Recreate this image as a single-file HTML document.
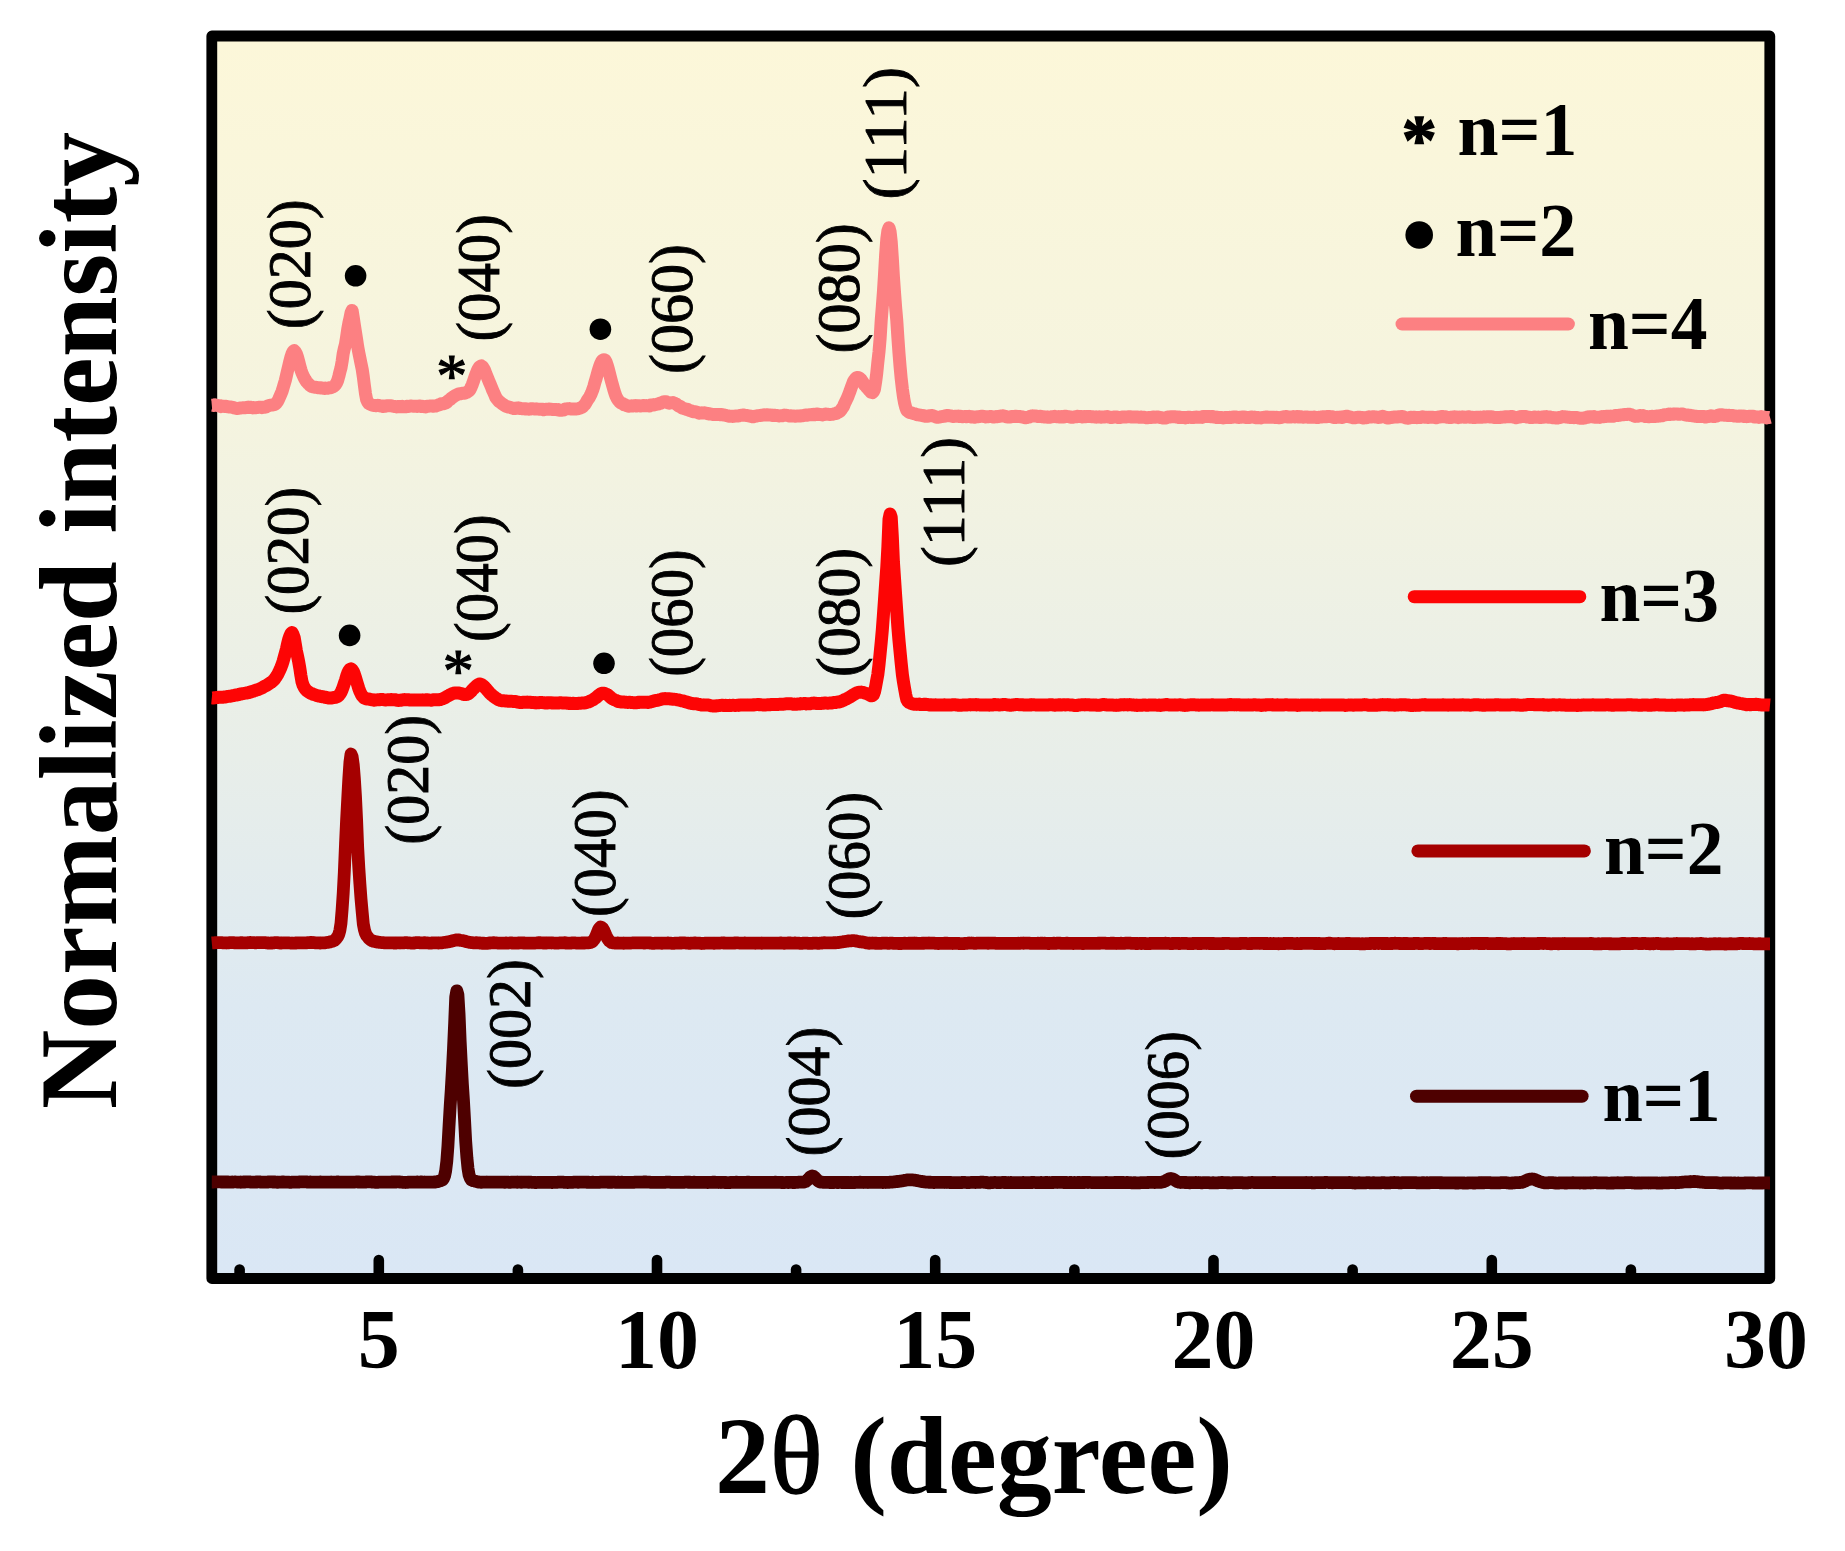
<!DOCTYPE html>
<html><head><meta charset="utf-8"><title>XRD</title>
<style>
html,body{margin:0;padding:0;background:#fff;}
svg{display:block;filter:blur(0.6px);}
text{font-family:"Liberation Serif","Times New Roman",serif;fill:#000;}
.b{font-weight:bold;}
.pl{font-size:62px;stroke:#000;stroke-width:0.9px;}
.tk{font-size:84px;font-weight:bold;text-anchor:middle;}
.lg{font-size:76px;font-weight:bold;}
.ax{font-size:110px;font-weight:bold;}
</style></head><body>
<svg width="1845" height="1551" viewBox="0 0 1845 1551">
<defs><linearGradient id="bg" x1="0" y1="0" x2="0" y2="1">
<stop offset="0" stop-color="#FCF7D9"/><stop offset="0.3" stop-color="#F5F4DF"/><stop offset="0.58" stop-color="#E8EEE9"/><stop offset="0.78" stop-color="#DDE9F2"/><stop offset="1" stop-color="#DAE7F5"/></linearGradient></defs>
<rect x="0" y="0" width="1845" height="1551" fill="#fff"/>
<rect x="211.8" y="36" width="1558" height="1242.5" fill="url(#bg)"/>

<g stroke="#000" stroke-width="10.6" stroke-linecap="round">
<line x1="239.6" y1="1278" x2="239.6" y2="1269.5"/>
<line x1="378.8" y1="1278" x2="378.8" y2="1260"/>
<line x1="517.9" y1="1278" x2="517.9" y2="1269.5"/>
<line x1="657.0" y1="1278" x2="657.0" y2="1260"/>
<line x1="796.1" y1="1278" x2="796.1" y2="1269.5"/>
<line x1="935.2" y1="1278" x2="935.2" y2="1260"/>
<line x1="1074.4" y1="1278" x2="1074.4" y2="1269.5"/>
<line x1="1213.5" y1="1278" x2="1213.5" y2="1260"/>
<line x1="1352.6" y1="1278" x2="1352.6" y2="1269.5"/>
<line x1="1491.8" y1="1278" x2="1491.8" y2="1260"/>
<line x1="1630.9" y1="1278" x2="1630.9" y2="1269.5"/>
</g>
<rect x="211.8" y="36" width="1558" height="1242.5" fill="none" stroke="#000" stroke-width="10.8" stroke-linejoin="round"/>
<g fill="none" stroke-linejoin="round" stroke-linecap="butt">
<path d="M211.8,405.3 L212.9,405.2 L214.0,405.5 L215.1,404.9 L216.3,405.4 L217.4,405.5 L218.5,405.9 L219.6,405.8 L220.7,406.6 L221.8,406.0 L222.9,406.3 L224.1,406.2 L225.2,406.6 L226.3,406.3 L227.4,406.7 L228.5,406.8 L229.6,407.0 L230.7,407.0 L231.8,407.1 L233.0,407.5 L234.1,407.9 L235.2,408.1 L236.3,408.3 L237.4,408.5 L238.5,408.4 L239.6,408.2 L240.8,408.0 L241.9,407.9 L243.0,407.8 L244.1,407.7 L245.2,407.7 L246.3,407.6 L247.4,407.3 L248.6,407.4 L249.7,407.2 L250.8,407.3 L251.9,407.7 L253.0,407.9 L254.1,407.8 L255.2,407.8 L256.4,407.6 L257.5,407.5 L258.6,407.4 L259.7,407.2 L260.8,407.3 L261.9,407.7 L263.0,407.3 L264.1,407.2 L265.3,407.2 L266.4,406.8 L267.5,406.0 L268.6,405.7 L269.7,405.3 L270.8,405.1 L271.9,405.0 L273.1,405.0 L274.2,404.6 L275.3,404.2 L276.4,403.0 L277.5,401.6 L278.6,399.4 L279.7,396.9 L280.9,394.1 L282.0,391.5 L283.1,387.9 L284.2,384.2 L285.3,380.5 L286.4,375.7 L287.5,370.9 L288.7,366.0 L289.8,361.3 L290.9,357.1 L292.0,353.9 L293.1,351.6 L294.2,350.6 L295.3,351.8 L296.4,353.8 L297.6,357.4 L298.7,361.5 L299.8,365.8 L300.9,369.8 L302.0,373.0 L303.1,375.5 L304.2,377.9 L305.4,379.9 L306.5,381.6 L307.6,382.8 L308.7,384.0 L309.8,385.1 L310.9,386.0 L312.0,386.5 L313.2,386.9 L314.3,387.1 L315.4,387.3 L316.5,387.4 L317.6,387.6 L318.7,387.8 L319.8,387.9 L321.0,387.8 L322.1,388.1 L323.2,388.2 L324.3,388.4 L325.4,388.1 L326.5,388.3 L327.6,388.2 L328.7,387.9 L329.9,387.7 L331.0,387.7 L332.1,387.2 L333.2,386.6 L334.3,386.1 L335.4,384.7 L336.5,383.1 L337.7,380.4 L338.8,376.4 L339.9,371.9 L341.0,367.8 L342.1,361.5 L343.2,353.7 L344.3,348.7 L345.5,344.0 L346.6,336.9 L347.7,329.4 L348.8,323.3 L349.9,318.6 L351.0,312.9 L352.1,310.4 L353.3,317.7 L354.4,325.1 L355.5,332.2 L356.6,339.3 L357.7,346.6 L358.8,352.6 L359.9,358.0 L361.0,363.5 L362.2,369.3 L363.3,376.7 L364.4,385.5 L365.5,393.7 L366.6,399.4 L367.7,402.0 L368.8,403.4 L370.0,404.1 L371.1,404.6 L372.2,405.1 L373.3,405.3 L374.4,405.5 L375.5,405.7 L376.6,405.7 L377.8,405.3 L378.9,405.5 L380.0,405.9 L381.1,405.9 L382.2,406.0 L383.3,406.5 L384.4,406.4 L385.6,406.1 L386.7,405.8 L387.8,405.8 L388.9,405.7 L390.0,405.8 L391.1,405.8 L392.2,406.1 L393.3,406.2 L394.5,406.5 L395.6,406.5 L396.7,406.9 L397.8,406.5 L398.9,406.4 L400.0,406.4 L401.1,406.8 L402.3,406.3 L403.4,406.7 L404.5,406.7 L405.6,406.8 L406.7,406.3 L407.8,406.4 L408.9,406.4 L410.1,406.2 L411.2,406.0 L412.3,406.1 L413.4,406.2 L414.5,406.2 L415.6,406.3 L416.7,406.4 L417.9,406.3 L419.0,406.1 L420.1,406.1 L421.2,406.4 L422.3,406.3 L423.4,406.6 L424.5,406.7 L425.6,406.9 L426.8,406.3 L427.9,406.3 L429.0,406.1 L430.1,406.0 L431.2,406.0 L432.3,406.2 L433.4,406.2 L434.6,405.9 L435.7,406.1 L436.8,405.6 L437.9,405.3 L439.0,404.7 L440.1,404.5 L441.2,403.7 L442.4,403.9 L443.5,403.8 L444.6,403.3 L445.7,403.0 L446.8,402.4 L447.9,400.9 L449.0,400.2 L450.2,399.5 L451.3,398.2 L452.4,397.5 L453.5,396.8 L454.6,396.0 L455.7,395.2 L456.8,394.9 L457.9,394.3 L459.1,393.8 L460.2,393.8 L461.3,393.6 L462.4,393.3 L463.5,393.2 L464.6,393.3 L465.7,392.7 L466.9,392.3 L468.0,391.6 L469.1,390.8 L470.2,389.2 L471.3,386.9 L472.4,384.2 L473.5,381.1 L474.7,377.5 L475.8,374.6 L476.9,371.7 L478.0,369.3 L479.1,367.4 L480.2,366.3 L481.3,365.9 L482.5,366.8 L483.6,368.4 L484.7,370.4 L485.8,373.4 L486.9,376.1 L488.0,378.9 L489.1,381.7 L490.2,384.2 L491.4,387.0 L492.5,389.9 L493.6,392.2 L494.7,394.8 L495.8,397.4 L496.9,398.9 L498.0,400.2 L499.2,401.7 L500.3,402.2 L501.4,403.2 L502.5,403.9 L503.6,404.7 L504.7,405.4 L505.8,406.3 L507.0,406.6 L508.1,407.0 L509.2,407.2 L510.3,407.4 L511.4,407.9 L512.5,408.1 L513.6,408.4 L514.8,408.5 L515.9,408.3 L517.0,407.9 L518.1,408.1 L519.2,408.0 L520.3,408.5 L521.4,408.5 L522.5,408.8 L523.7,408.7 L524.8,408.9 L525.9,408.7 L527.0,409.0 L528.1,409.1 L529.2,409.2 L530.3,408.8 L531.5,408.9 L532.6,408.8 L533.7,408.9 L534.8,408.9 L535.9,409.1 L537.0,409.0 L538.1,409.1 L539.3,409.2 L540.4,409.2 L541.5,409.2 L542.6,409.3 L543.7,409.8 L544.8,409.5 L545.9,409.2 L547.1,409.2 L548.2,409.1 L549.3,409.0 L550.4,409.3 L551.5,409.3 L552.6,409.6 L553.7,409.5 L554.8,409.4 L556.0,409.5 L557.1,409.8 L558.2,409.6 L559.3,410.2 L560.4,410.2 L561.5,410.2 L562.6,409.9 L563.8,409.9 L564.9,409.2 L566.0,409.0 L567.1,408.7 L568.2,408.7 L569.3,408.6 L570.4,408.8 L571.6,409.0 L572.7,408.9 L573.8,409.0 L574.9,409.0 L576.0,409.0 L577.1,408.7 L578.2,408.8 L579.4,408.2 L580.5,407.9 L581.6,407.5 L582.7,406.8 L583.8,405.5 L584.9,404.5 L586.0,402.8 L587.1,400.7 L588.3,398.9 L589.4,397.4 L590.5,395.2 L591.6,392.8 L592.7,389.9 L593.8,386.5 L594.9,382.4 L596.1,378.5 L597.2,374.5 L598.3,370.4 L599.4,367.0 L600.5,364.0 L601.6,361.6 L602.7,360.1 L603.9,359.7 L605.0,360.1 L606.1,362.0 L607.2,365.1 L608.3,368.8 L609.4,373.1 L610.5,377.6 L611.7,382.2 L612.8,386.1 L613.9,390.0 L615.0,393.4 L616.1,396.4 L617.2,398.6 L618.3,400.2 L619.4,401.6 L620.6,402.7 L621.7,403.3 L622.8,403.7 L623.9,404.7 L625.0,404.8 L626.1,405.4 L627.2,405.7 L628.4,406.3 L629.5,406.1 L630.6,406.0 L631.7,405.8 L632.8,406.0 L633.9,405.7 L635.0,405.6 L636.2,405.9 L637.3,405.9 L638.4,405.7 L639.5,405.7 L640.6,406.0 L641.7,405.9 L642.8,405.7 L644.0,405.5 L645.1,405.8 L646.2,405.6 L647.3,405.8 L648.4,405.6 L649.5,405.9 L650.6,405.1 L651.7,405.1 L652.9,404.8 L654.0,405.1 L655.1,404.5 L656.2,404.5 L657.3,404.1 L658.4,404.1 L659.5,403.3 L660.7,403.2 L661.8,402.6 L662.9,402.1 L664.0,401.8 L665.1,401.9 L666.2,401.8 L667.3,402.6 L668.5,403.1 L669.6,403.2 L670.7,402.8 L671.8,402.8 L672.9,402.6 L674.0,402.9 L675.1,403.5 L676.3,404.1 L677.4,405.0 L678.5,406.0 L679.6,406.2 L680.7,406.6 L681.8,407.8 L682.9,408.3 L684.0,408.4 L685.2,408.9 L686.3,409.4 L687.4,409.3 L688.5,409.9 L689.6,410.5 L690.7,410.8 L691.8,411.1 L693.0,411.7 L694.1,411.7 L695.2,411.8 L696.3,412.1 L697.4,412.5 L698.5,412.9 L699.6,413.2 L700.8,413.0 L701.9,412.8 L703.0,413.0 L704.1,412.8 L705.2,412.9 L706.3,413.2 L707.4,413.7 L708.6,413.5 L709.7,414.0 L710.8,413.9 L711.9,414.4 L713.0,414.5 L714.1,414.5 L715.2,414.6 L716.3,414.6 L717.5,414.4 L718.6,414.5 L719.7,414.7 L720.8,414.5 L721.9,414.7 L723.0,414.8 L724.1,415.0 L725.3,415.3 L726.4,415.6 L727.5,415.7 L728.6,416.1 L729.7,416.3 L730.8,416.3 L731.9,416.3 L733.1,416.4 L734.2,416.3 L735.3,416.0 L736.4,416.1 L737.5,416.1 L738.6,415.9 L739.7,415.6 L740.9,415.3 L742.0,415.1 L743.1,415.0 L744.2,415.2 L745.3,415.4 L746.4,415.5 L747.5,415.5 L748.6,415.9 L749.8,415.9 L750.9,416.3 L752.0,416.7 L753.1,416.8 L754.2,416.4 L755.3,416.2 L756.4,416.1 L757.6,415.7 L758.7,415.6 L759.8,415.5 L760.9,415.3 L762.0,415.3 L763.1,415.0 L764.2,414.7 L765.4,415.0 L766.5,414.8 L767.6,414.7 L768.7,415.0 L769.8,415.1 L770.9,415.0 L772.0,415.4 L773.2,415.3 L774.3,415.4 L775.4,415.3 L776.5,415.5 L777.6,415.7 L778.7,415.9 L779.8,415.9 L780.9,415.8 L782.1,415.8 L783.2,415.3 L784.3,415.1 L785.4,415.2 L786.5,415.4 L787.6,415.5 L788.7,415.9 L789.9,415.9 L791.0,415.8 L792.1,416.1 L793.2,416.1 L794.3,415.9 L795.4,416.2 L796.5,416.1 L797.7,415.9 L798.8,415.9 L799.9,416.1 L801.0,415.7 L802.1,415.7 L803.2,415.7 L804.3,415.3 L805.5,415.0 L806.6,415.2 L807.7,415.2 L808.8,414.8 L809.9,414.8 L811.0,414.8 L812.1,414.5 L813.2,414.3 L814.4,414.8 L815.5,414.3 L816.6,414.0 L817.7,414.0 L818.8,414.5 L819.9,414.5 L821.0,414.7 L822.2,414.9 L823.3,414.6 L824.4,414.5 L825.5,414.0 L826.6,414.1 L827.7,414.3 L828.8,414.4 L830.0,414.4 L831.1,414.4 L832.2,414.3 L833.3,414.1 L834.4,413.8 L835.5,413.5 L836.6,413.3 L837.8,412.3 L838.9,412.1 L840.0,411.3 L841.1,409.9 L842.2,408.2 L843.3,406.8 L844.4,404.0 L845.5,401.7 L846.7,399.2 L847.8,396.9 L848.9,394.0 L850.0,391.1 L851.1,387.9 L852.2,384.9 L853.3,381.9 L854.5,379.9 L855.6,378.5 L856.7,377.6 L857.8,377.4 L858.9,377.8 L860.0,378.6 L861.1,379.6 L862.3,381.4 L863.4,383.1 L864.5,384.9 L865.6,386.0 L866.7,387.5 L867.8,388.5 L868.9,390.0 L870.1,391.2 L871.2,392.3 L872.3,392.6 L873.4,391.7 L874.5,389.1 L875.6,382.1 L876.7,373.7 L877.8,362.6 L879.0,351.9 L880.1,338.8 L881.2,320.5 L882.3,306.7 L883.4,292.1 L884.5,274.6 L885.6,255.3 L886.8,238.9 L887.9,230.7 L889.0,227.8 L890.1,231.8 L891.2,241.4 L892.3,257.8 L893.4,276.5 L894.6,293.5 L895.7,308.3 L896.8,320.8 L897.9,337.9 L899.0,353.4 L900.1,366.9 L901.2,378.6 L902.4,389.1 L903.5,397.0 L904.6,403.1 L905.7,407.3 L906.8,410.4 L907.9,411.3 L909.0,412.3 L910.1,412.5 L911.3,412.8 L912.4,413.2 L913.5,413.5 L914.6,413.6 L915.7,414.2 L916.8,414.7 L917.9,414.7 L919.1,415.0 L920.2,415.1 L921.3,415.3 L922.4,415.6 L923.5,416.0 L924.6,415.8 L925.7,416.3 L926.9,416.2 L928.0,416.3 L929.1,415.7 L930.2,415.8 L931.3,415.5 L932.4,415.7 L933.5,415.9 L934.7,416.4 L935.8,416.9 L936.9,417.2 L938.0,417.2 L939.1,416.9 L940.2,416.9 L941.3,416.7 L942.4,416.4 L943.6,416.3 L944.7,416.3 L945.8,415.6 L946.9,415.5 L948.0,415.4 L949.1,415.8 L950.2,415.7 L951.4,416.1 L952.5,416.5 L953.6,416.5 L954.7,416.4 L955.8,416.2 L956.9,416.2 L958.0,416.1 L959.2,416.4 L960.3,416.2 L961.4,416.6 L962.5,416.7 L963.6,416.6 L964.7,416.5 L965.8,416.7 L967.0,416.7 L968.1,416.5 L969.2,416.3 L970.3,416.7 L971.4,417.0 L972.5,416.7 L973.6,417.0 L974.7,417.3 L975.9,417.0 L977.0,416.7 L978.1,416.7 L979.2,416.6 L980.3,416.4 L981.4,416.3 L982.5,416.3 L983.7,416.4 L984.8,416.6 L985.9,416.9 L987.0,416.7 L988.1,416.7 L989.2,416.6 L990.3,416.6 L991.5,416.4 L992.6,416.9 L993.7,416.9 L994.8,417.0 L995.9,416.6 L997.0,416.8 L998.1,416.5 L999.3,416.3 L1000.4,416.2 L1001.5,416.0 L1002.6,415.8 L1003.7,415.9 L1004.8,416.2 L1005.9,416.6 L1007.1,416.9 L1008.2,417.1 L1009.3,417.1 L1010.4,417.1 L1011.5,416.4 L1012.6,416.6 L1013.7,416.4 L1014.8,416.4 L1016.0,416.2 L1017.1,416.6 L1018.2,416.5 L1019.3,416.6 L1020.4,416.5 L1021.5,416.9 L1022.6,417.1 L1023.8,417.2 L1024.9,417.8 L1026.0,417.7 L1027.1,417.5 L1028.2,417.1 L1029.3,417.0 L1030.4,416.3 L1031.6,416.0 L1032.7,415.8 L1033.8,416.0 L1034.9,416.1 L1036.0,416.0 L1037.1,416.3 L1038.2,416.5 L1039.4,416.4 L1040.5,416.3 L1041.6,416.6 L1042.7,416.8 L1043.8,416.7 L1044.9,417.1 L1046.0,417.0 L1047.1,417.2 L1048.3,417.1 L1049.4,417.3 L1050.5,416.9 L1051.6,416.8 L1052.7,416.4 L1053.8,416.5 L1054.9,416.3 L1056.1,416.7 L1057.2,416.7 L1058.3,416.6 L1059.4,417.0 L1060.5,417.1 L1061.6,416.5 L1062.7,416.8 L1063.9,417.0 L1065.0,416.3 L1066.1,416.2 L1067.2,416.5 L1068.3,416.6 L1069.4,416.7 L1070.5,417.1 L1071.7,417.3 L1072.8,417.3 L1073.9,417.0 L1075.0,416.7 L1076.1,416.8 L1077.2,416.3 L1078.3,416.4 L1079.4,416.4 L1080.6,416.5 L1081.7,416.5 L1082.8,417.0 L1083.9,416.6 L1085.0,416.6 L1086.1,416.7 L1087.2,416.5 L1088.4,416.4 L1089.5,416.4 L1090.6,416.6 L1091.7,416.7 L1092.8,416.8 L1093.9,416.9 L1095.0,417.0 L1096.2,417.2 L1097.3,417.0 L1098.4,417.1 L1099.5,416.8 L1100.6,417.2 L1101.7,417.2 L1102.8,417.0 L1104.0,416.9 L1105.1,416.9 L1106.2,416.7 L1107.3,416.4 L1108.4,417.0 L1109.5,417.1 L1110.6,417.4 L1111.7,417.4 L1112.9,417.3 L1114.0,417.0 L1115.1,416.9 L1116.2,417.0 L1117.3,417.2 L1118.4,417.6 L1119.5,417.5 L1120.7,417.5 L1121.8,417.1 L1122.9,417.1 L1124.0,417.1 L1125.1,417.1 L1126.2,417.0 L1127.3,416.9 L1128.5,416.8 L1129.6,416.7 L1130.7,416.8 L1131.8,417.0 L1132.9,417.1 L1134.0,417.1 L1135.1,417.1 L1136.3,417.0 L1137.4,417.0 L1138.5,417.1 L1139.6,417.3 L1140.7,417.1 L1141.8,417.1 L1142.9,417.2 L1144.0,417.3 L1145.2,417.4 L1146.3,417.7 L1147.4,417.7 L1148.5,417.4 L1149.6,417.4 L1150.7,417.5 L1151.8,417.3 L1153.0,417.0 L1154.1,417.2 L1155.2,417.3 L1156.3,417.0 L1157.4,417.0 L1158.5,417.2 L1159.6,417.4 L1160.8,417.4 L1161.9,417.7 L1163.0,418.0 L1164.1,418.1 L1165.2,418.0 L1166.3,417.8 L1167.4,417.2 L1168.6,417.0 L1169.7,417.1 L1170.8,416.7 L1171.9,416.7 L1173.0,416.8 L1174.1,416.8 L1175.2,416.7 L1176.3,417.0 L1177.5,417.1 L1178.6,417.4 L1179.7,417.0 L1180.8,417.4 L1181.9,417.6 L1183.0,417.6 L1184.1,417.5 L1185.3,417.9 L1186.4,417.5 L1187.5,417.3 L1188.6,417.4 L1189.7,417.3 L1190.8,417.4 L1191.9,417.6 L1193.1,417.5 L1194.2,417.3 L1195.3,417.2 L1196.4,416.9 L1197.5,417.2 L1198.6,417.2 L1199.7,417.2 L1200.9,417.3 L1202.0,417.4 L1203.1,416.5 L1204.2,416.6 L1205.3,416.5 L1206.4,416.5 L1207.5,416.4 L1208.6,416.6 L1209.8,416.6 L1210.9,416.7 L1212.0,416.5 L1213.1,416.7 L1214.2,417.1 L1215.3,417.1 L1216.4,417.4 L1217.6,417.3 L1218.7,417.6 L1219.8,417.4 L1220.9,417.6 L1222.0,417.5 L1223.1,417.9 L1224.2,417.7 L1225.4,417.6 L1226.5,417.4 L1227.6,417.6 L1228.7,417.5 L1229.8,417.3 L1230.9,417.5 L1232.0,417.4 L1233.2,417.0 L1234.3,417.1 L1235.4,417.0 L1236.5,417.2 L1237.6,417.4 L1238.7,417.5 L1239.8,417.2 L1240.9,417.3 L1242.1,416.9 L1243.2,416.9 L1244.3,416.9 L1245.4,417.3 L1246.5,417.5 L1247.6,417.5 L1248.7,417.4 L1249.9,417.4 L1251.0,416.9 L1252.1,416.9 L1253.2,417.2 L1254.3,417.4 L1255.4,417.3 L1256.5,417.8 L1257.7,417.6 L1258.8,417.6 L1259.9,417.7 L1261.0,417.9 L1262.1,417.4 L1263.2,417.4 L1264.3,417.3 L1265.5,417.2 L1266.6,417.0 L1267.7,417.2 L1268.8,417.3 L1269.9,417.3 L1271.0,417.2 L1272.1,417.3 L1273.2,417.2 L1274.4,417.4 L1275.5,417.4 L1276.6,417.3 L1277.7,417.6 L1278.8,417.7 L1279.9,417.7 L1281.0,417.5 L1282.2,417.2 L1283.3,416.8 L1284.4,416.8 L1285.5,416.6 L1286.6,416.6 L1287.7,416.9 L1288.8,416.9 L1290.0,416.9 L1291.1,417.0 L1292.2,416.9 L1293.3,416.5 L1294.4,416.9 L1295.5,416.9 L1296.6,416.5 L1297.8,416.5 L1298.9,417.0 L1300.0,416.7 L1301.1,416.8 L1302.2,417.1 L1303.3,417.2 L1304.4,417.1 L1305.5,417.1 L1306.7,417.0 L1307.8,417.2 L1308.9,417.3 L1310.0,417.2 L1311.1,417.2 L1312.2,417.2 L1313.3,417.2 L1314.5,417.1 L1315.6,417.3 L1316.7,417.6 L1317.8,417.6 L1318.9,417.2 L1320.0,417.1 L1321.1,417.0 L1322.3,416.8 L1323.4,416.8 L1324.5,416.7 L1325.6,416.8 L1326.7,416.7 L1327.8,416.5 L1328.9,416.4 L1330.1,416.6 L1331.2,416.7 L1332.3,416.8 L1333.4,417.4 L1334.5,417.6 L1335.6,417.5 L1336.7,417.2 L1337.8,417.3 L1339.0,417.3 L1340.1,417.1 L1341.2,417.5 L1342.3,417.5 L1343.4,416.9 L1344.5,416.4 L1345.6,416.4 L1346.8,416.2 L1347.9,416.4 L1349.0,416.7 L1350.1,417.0 L1351.2,417.3 L1352.3,417.4 L1353.4,417.8 L1354.6,417.8 L1355.7,417.6 L1356.8,417.4 L1357.9,417.3 L1359.0,417.2 L1360.1,417.2 L1361.2,417.5 L1362.4,417.5 L1363.5,418.0 L1364.6,417.7 L1365.7,417.8 L1366.8,417.6 L1367.9,417.2 L1369.0,416.8 L1370.1,417.0 L1371.3,417.0 L1372.4,416.7 L1373.5,416.8 L1374.6,416.8 L1375.7,417.0 L1376.8,417.2 L1377.9,417.4 L1379.1,417.4 L1380.2,417.3 L1381.3,416.7 L1382.4,416.3 L1383.5,416.6 L1384.6,417.1 L1385.7,417.2 L1386.9,417.9 L1388.0,418.1 L1389.1,417.9 L1390.2,417.6 L1391.3,417.6 L1392.4,417.3 L1393.5,417.2 L1394.7,417.0 L1395.8,417.1 L1396.9,417.0 L1398.0,416.8 L1399.1,416.8 L1400.2,416.8 L1401.3,416.4 L1402.4,416.4 L1403.6,417.0 L1404.7,417.5 L1405.8,417.9 L1406.9,418.1 L1408.0,418.2 L1409.1,418.1 L1410.2,417.4 L1411.4,417.2 L1412.5,417.5 L1413.6,417.3 L1414.7,417.2 L1415.8,417.5 L1416.9,417.7 L1418.0,417.5 L1419.2,417.4 L1420.3,417.4 L1421.4,417.4 L1422.5,416.8 L1423.6,417.1 L1424.7,417.2 L1425.8,417.3 L1427.0,417.3 L1428.1,417.6 L1429.2,417.3 L1430.3,417.2 L1431.4,417.2 L1432.5,417.3 L1433.6,417.4 L1434.7,417.5 L1435.9,417.8 L1437.0,417.6 L1438.1,417.1 L1439.2,417.1 L1440.3,417.1 L1441.4,416.4 L1442.5,416.6 L1443.7,416.7 L1444.8,416.8 L1445.9,416.8 L1447.0,417.3 L1448.1,417.4 L1449.2,417.5 L1450.3,417.3 L1451.5,417.5 L1452.6,416.9 L1453.7,416.9 L1454.8,416.8 L1455.9,417.2 L1457.0,417.0 L1458.1,417.6 L1459.3,417.1 L1460.4,417.3 L1461.5,417.0 L1462.6,417.1 L1463.7,416.9 L1464.8,417.3 L1465.9,417.2 L1467.0,417.1 L1468.2,416.8 L1469.3,416.8 L1470.4,417.3 L1471.5,417.2 L1472.6,417.3 L1473.7,417.5 L1474.8,417.6 L1476.0,417.2 L1477.1,417.2 L1478.2,417.3 L1479.3,417.2 L1480.4,417.1 L1481.5,417.2 L1482.6,417.2 L1483.8,416.8 L1484.9,417.1 L1486.0,416.9 L1487.1,416.8 L1488.2,416.7 L1489.3,416.9 L1490.4,416.7 L1491.6,416.8 L1492.7,417.0 L1493.8,417.4 L1494.9,417.4 L1496.0,417.6 L1497.1,417.6 L1498.2,417.5 L1499.3,417.4 L1500.5,417.4 L1501.6,417.2 L1502.7,417.1 L1503.8,417.0 L1504.9,416.8 L1506.0,416.9 L1507.1,416.8 L1508.3,416.8 L1509.4,416.7 L1510.5,416.4 L1511.6,416.5 L1512.7,416.7 L1513.8,417.3 L1514.9,417.2 L1516.1,417.7 L1517.2,417.4 L1518.3,417.3 L1519.4,416.8 L1520.5,416.9 L1521.6,416.4 L1522.7,416.6 L1523.9,416.4 L1525.0,416.5 L1526.1,416.7 L1527.2,417.1 L1528.3,417.0 L1529.4,417.3 L1530.5,417.5 L1531.6,417.5 L1532.8,417.4 L1533.9,417.2 L1535.0,417.0 L1536.1,417.3 L1537.2,417.3 L1538.3,417.1 L1539.4,417.5 L1540.6,417.6 L1541.7,417.1 L1542.8,416.9 L1543.9,417.2 L1545.0,416.7 L1546.1,416.6 L1547.2,416.9 L1548.4,417.2 L1549.5,417.0 L1550.6,417.2 L1551.7,417.5 L1552.8,417.8 L1553.9,417.6 L1555.0,417.7 L1556.2,418.1 L1557.3,418.1 L1558.4,417.6 L1559.5,417.6 L1560.6,417.4 L1561.7,416.9 L1562.8,416.6 L1563.9,416.7 L1565.1,416.7 L1566.2,417.0 L1567.3,417.2 L1568.4,417.2 L1569.5,417.3 L1570.6,417.5 L1571.7,417.4 L1572.9,417.5 L1574.0,417.7 L1575.1,417.5 L1576.2,417.6 L1577.3,417.6 L1578.4,418.0 L1579.5,418.1 L1580.7,418.3 L1581.8,418.3 L1582.9,418.3 L1584.0,418.0 L1585.1,417.8 L1586.2,417.4 L1587.3,417.1 L1588.5,417.2 L1589.6,416.7 L1590.7,416.7 L1591.8,416.7 L1592.9,416.9 L1594.0,416.6 L1595.1,417.2 L1596.2,417.3 L1597.4,417.2 L1598.5,417.3 L1599.6,417.4 L1600.7,416.9 L1601.8,416.5 L1602.9,416.8 L1604.0,416.6 L1605.2,416.5 L1606.3,416.3 L1607.4,416.2 L1608.5,416.3 L1609.6,416.2 L1610.7,416.1 L1611.8,416.3 L1613.0,416.3 L1614.1,415.9 L1615.2,415.6 L1616.3,415.6 L1617.4,415.5 L1618.5,415.3 L1619.6,415.3 L1620.8,415.0 L1621.9,414.9 L1623.0,414.8 L1624.1,414.6 L1625.2,414.4 L1626.3,414.4 L1627.4,414.4 L1628.5,414.2 L1629.7,414.3 L1630.8,414.7 L1631.9,415.1 L1633.0,415.4 L1634.1,416.0 L1635.2,416.4 L1636.3,416.3 L1637.5,416.3 L1638.6,415.9 L1639.7,415.5 L1640.8,415.7 L1641.9,415.8 L1643.0,415.6 L1644.1,416.1 L1645.3,416.6 L1646.4,416.6 L1647.5,416.6 L1648.6,416.7 L1649.7,416.7 L1650.8,416.5 L1651.9,416.3 L1653.1,416.4 L1654.2,416.6 L1655.3,416.5 L1656.4,416.0 L1657.5,416.2 L1658.6,416.2 L1659.7,416.0 L1660.8,415.5 L1662.0,415.8 L1663.1,415.4 L1664.2,414.7 L1665.3,414.8 L1666.4,414.6 L1667.5,414.5 L1668.6,414.1 L1669.8,414.4 L1670.9,414.1 L1672.0,414.2 L1673.1,413.9 L1674.2,414.2 L1675.3,414.0 L1676.4,414.0 L1677.6,414.2 L1678.7,414.1 L1679.8,414.2 L1680.9,413.9 L1682.0,414.0 L1683.1,414.2 L1684.2,414.7 L1685.4,414.7 L1686.5,415.1 L1687.6,415.3 L1688.7,415.4 L1689.8,415.2 L1690.9,415.6 L1692.0,415.7 L1693.1,415.9 L1694.3,415.9 L1695.4,416.2 L1696.5,416.3 L1697.6,416.5 L1698.7,416.4 L1699.8,416.6 L1700.9,416.6 L1702.1,416.6 L1703.2,416.5 L1704.3,416.5 L1705.4,417.0 L1706.5,416.8 L1707.6,416.6 L1708.7,416.4 L1709.9,416.3 L1711.0,415.7 L1712.1,416.0 L1713.2,416.5 L1714.3,416.6 L1715.4,416.1 L1716.5,416.1 L1717.7,415.5 L1718.8,415.0 L1719.9,414.7 L1721.0,415.1 L1722.1,414.8 L1723.2,415.1 L1724.3,415.2 L1725.4,415.3 L1726.6,415.2 L1727.7,415.5 L1728.8,415.3 L1729.9,415.4 L1731.0,415.5 L1732.1,415.6 L1733.2,415.6 L1734.4,416.0 L1735.5,416.0 L1736.6,416.1 L1737.7,416.3 L1738.8,416.0 L1739.9,416.2 L1741.0,416.0 L1742.2,416.2 L1743.3,416.1 L1744.4,416.6 L1745.5,416.3 L1746.6,416.7 L1747.7,416.5 L1748.8,416.3 L1750.0,416.3 L1751.1,416.3 L1752.2,416.2 L1753.3,416.2 L1754.4,417.0 L1755.5,416.9 L1756.6,417.1 L1757.7,417.0 L1758.9,417.4 L1760.0,417.0 L1761.1,416.6 L1762.2,417.1 L1763.3,417.1 L1764.4,417.1 L1765.5,417.3 L1766.7,417.9 L1767.8,417.4 L1768.9,417.6 L1770.0,417.3" stroke="#FC8082" stroke-width="13"/>
<path d="M211.8,697.9 L212.9,698.0 L214.0,697.8 L215.1,697.7 L216.3,697.6 L217.4,697.6 L218.5,697.2 L219.6,697.2 L220.7,697.2 L221.8,697.3 L222.9,697.2 L224.1,697.1 L225.2,697.1 L226.3,696.8 L227.4,696.5 L228.5,696.4 L229.6,696.3 L230.7,696.1 L231.8,695.9 L233.0,695.7 L234.1,695.4 L235.2,695.2 L236.3,695.0 L237.4,694.8 L238.5,694.6 L239.6,694.2 L240.8,694.0 L241.9,693.8 L243.0,693.5 L244.1,693.5 L245.2,693.1 L246.3,693.0 L247.4,692.8 L248.6,692.6 L249.7,692.2 L250.8,692.0 L251.9,691.6 L253.0,691.3 L254.1,690.8 L255.2,690.5 L256.4,690.0 L257.5,689.7 L258.6,689.4 L259.7,688.9 L260.8,688.4 L261.9,688.0 L263.0,687.3 L264.1,686.6 L265.3,686.1 L266.4,685.4 L267.5,684.7 L268.6,684.0 L269.7,683.3 L270.8,682.6 L271.9,681.7 L273.1,680.7 L274.2,679.6 L275.3,678.1 L276.4,676.5 L277.5,674.8 L278.6,672.6 L279.7,670.2 L280.9,667.5 L282.0,664.7 L283.1,661.3 L284.2,657.3 L285.3,653.2 L286.4,649.2 L287.5,644.2 L288.7,639.4 L289.8,636.2 L290.9,633.8 L292.0,632.5 L293.1,634.6 L294.2,637.7 L295.3,644.1 L296.4,650.9 L297.6,656.4 L298.7,661.8 L299.8,668.1 L300.9,675.5 L302.0,681.8 L303.1,685.2 L304.2,687.4 L305.4,689.2 L306.5,690.4 L307.6,691.2 L308.7,692.0 L309.8,692.8 L310.9,693.3 L312.0,693.7 L313.2,694.4 L314.3,694.6 L315.4,695.0 L316.5,695.4 L317.6,695.7 L318.7,696.0 L319.8,696.2 L321.0,696.5 L322.1,696.7 L323.2,696.8 L324.3,696.9 L325.4,697.3 L326.5,697.5 L327.6,697.8 L328.7,698.1 L329.9,698.1 L331.0,698.1 L332.1,697.9 L333.2,697.7 L334.3,697.5 L335.4,697.4 L336.5,697.0 L337.7,696.4 L338.8,695.4 L339.9,694.0 L341.0,692.4 L342.1,689.9 L343.2,686.8 L344.3,683.5 L345.5,680.0 L346.6,676.2 L347.7,673.1 L348.8,670.8 L349.9,669.3 L351.0,668.8 L352.1,669.7 L353.3,671.4 L354.4,674.2 L355.5,677.5 L356.6,681.3 L357.7,684.9 L358.8,688.5 L359.9,691.5 L361.0,693.8 L362.2,695.8 L363.3,697.1 L364.4,698.1 L365.5,698.5 L366.6,699.1 L367.7,699.1 L368.8,699.0 L370.0,699.4 L371.1,699.6 L372.2,699.8 L373.3,699.9 L374.4,700.2 L375.5,700.0 L376.6,699.9 L377.8,699.8 L378.9,699.8 L380.0,699.6 L381.1,699.6 L382.2,699.5 L383.3,699.7 L384.4,699.7 L385.6,700.0 L386.7,699.9 L387.8,699.8 L388.9,699.8 L390.0,699.8 L391.1,699.5 L392.2,699.6 L393.3,699.8 L394.5,699.7 L395.6,699.8 L396.7,700.3 L397.8,700.4 L398.9,700.4 L400.0,700.2 L401.1,700.2 L402.3,699.9 L403.4,699.8 L404.5,699.6 L405.6,699.8 L406.7,699.8 L407.8,699.7 L408.9,699.8 L410.1,700.0 L411.2,700.0 L412.3,700.0 L413.4,700.1 L414.5,700.1 L415.6,700.0 L416.7,699.9 L417.9,699.9 L419.0,699.9 L420.1,699.9 L421.2,699.9 L422.3,700.1 L423.4,700.0 L424.5,700.0 L425.6,699.8 L426.8,699.9 L427.9,699.8 L429.0,700.0 L430.1,700.1 L431.2,700.2 L432.3,699.9 L433.4,699.8 L434.6,699.7 L435.7,699.8 L436.8,699.8 L437.9,699.7 L439.0,699.7 L440.1,699.6 L441.2,699.2 L442.4,698.8 L443.5,698.3 L444.6,697.9 L445.7,697.2 L446.8,696.6 L447.9,695.9 L449.0,695.4 L450.2,694.7 L451.3,694.1 L452.4,693.7 L453.5,693.3 L454.6,692.9 L455.7,693.0 L456.8,692.9 L457.9,692.9 L459.1,693.2 L460.2,693.4 L461.3,693.6 L462.4,693.9 L463.5,694.3 L464.6,694.5 L465.7,694.6 L466.9,694.4 L468.0,694.0 L469.1,693.2 L470.2,692.2 L471.3,691.2 L472.4,689.8 L473.5,688.8 L474.7,687.5 L475.8,686.5 L476.9,685.4 L478.0,684.7 L479.1,684.1 L480.2,684.1 L481.3,684.4 L482.5,685.2 L483.6,686.1 L484.7,687.2 L485.8,688.5 L486.9,689.7 L488.0,691.0 L489.1,692.3 L490.2,693.5 L491.4,694.6 L492.5,695.5 L493.6,696.5 L494.7,697.3 L495.8,698.0 L496.9,698.6 L498.0,699.5 L499.2,700.0 L500.3,700.4 L501.4,700.6 L502.5,700.8 L503.6,700.8 L504.7,700.9 L505.8,700.9 L507.0,701.1 L508.1,701.2 L509.2,701.2 L510.3,701.3 L511.4,701.3 L512.5,701.4 L513.6,701.4 L514.8,701.5 L515.9,701.7 L517.0,701.9 L518.1,702.2 L519.2,702.4 L520.3,702.4 L521.4,702.6 L522.5,702.4 L523.7,702.2 L524.8,702.2 L525.9,702.2 L527.0,702.1 L528.1,702.3 L529.2,702.3 L530.3,702.3 L531.5,702.4 L532.6,702.5 L533.7,702.5 L534.8,702.8 L535.9,702.9 L537.0,702.7 L538.1,702.7 L539.3,702.7 L540.4,702.5 L541.5,702.6 L542.6,702.6 L543.7,702.7 L544.8,702.9 L545.9,702.9 L547.1,702.8 L548.2,702.9 L549.3,702.8 L550.4,702.7 L551.5,702.9 L552.6,703.1 L553.7,703.0 L554.8,703.1 L556.0,703.0 L557.1,702.9 L558.2,702.9 L559.3,702.9 L560.4,702.7 L561.5,702.9 L562.6,703.0 L563.8,703.0 L564.9,702.9 L566.0,703.0 L567.1,703.3 L568.2,703.4 L569.3,703.2 L570.4,703.4 L571.6,703.5 L572.7,703.3 L573.8,703.3 L574.9,703.5 L576.0,703.5 L577.1,703.5 L578.2,703.3 L579.4,703.3 L580.5,703.2 L581.6,703.1 L582.7,702.9 L583.8,703.0 L584.9,702.8 L586.0,702.7 L587.1,702.3 L588.3,702.0 L589.4,701.5 L590.5,701.0 L591.6,700.4 L592.7,699.9 L593.8,699.2 L594.9,698.3 L596.1,697.6 L597.2,696.6 L598.3,695.6 L599.4,694.7 L600.5,693.9 L601.6,693.4 L602.7,693.2 L603.9,693.3 L605.0,693.6 L606.1,694.0 L607.2,694.6 L608.3,695.3 L609.4,696.2 L610.5,697.3 L611.7,698.2 L612.8,698.9 L613.9,699.6 L615.0,700.0 L616.1,700.4 L617.2,701.0 L618.3,701.5 L619.4,701.7 L620.6,701.8 L621.7,702.0 L622.8,701.9 L623.9,702.0 L625.0,702.1 L626.1,702.3 L627.2,702.4 L628.4,702.4 L629.5,702.3 L630.6,702.4 L631.7,702.6 L632.8,702.6 L633.9,702.7 L635.0,702.8 L636.2,702.7 L637.3,702.4 L638.4,702.3 L639.5,702.4 L640.6,702.3 L641.7,702.2 L642.8,702.3 L644.0,702.3 L645.1,702.2 L646.2,702.2 L647.3,702.4 L648.4,702.4 L649.5,702.2 L650.6,701.9 L651.7,701.7 L652.9,701.3 L654.0,701.0 L655.1,700.6 L656.2,700.6 L657.3,700.3 L658.4,700.1 L659.5,699.8 L660.7,699.5 L661.8,699.1 L662.9,698.8 L664.0,698.8 L665.1,698.6 L666.2,698.8 L667.3,698.8 L668.5,698.8 L669.6,698.7 L670.7,699.0 L671.8,698.9 L672.9,699.2 L674.0,699.3 L675.1,699.4 L676.3,699.5 L677.4,699.9 L678.5,700.0 L679.6,700.2 L680.7,700.5 L681.8,700.9 L682.9,701.0 L684.0,701.2 L685.2,701.7 L686.3,702.0 L687.4,702.2 L688.5,702.7 L689.6,703.0 L690.7,703.2 L691.8,703.5 L693.0,703.7 L694.1,703.7 L695.2,703.8 L696.3,703.8 L697.4,704.1 L698.5,704.3 L699.6,704.5 L700.8,704.8 L701.9,705.0 L703.0,705.0 L704.1,705.1 L705.2,704.9 L706.3,705.0 L707.4,705.1 L708.6,705.1 L709.7,705.3 L710.8,705.8 L711.9,705.9 L713.0,706.0 L714.1,706.1 L715.2,706.0 L716.3,705.8 L717.5,705.7 L718.6,705.6 L719.7,705.5 L720.8,705.4 L721.9,705.3 L723.0,705.3 L724.1,705.5 L725.3,705.3 L726.4,705.6 L727.5,705.5 L728.6,705.5 L729.7,705.3 L730.8,705.5 L731.9,705.4 L733.1,705.3 L734.2,705.4 L735.3,705.5 L736.4,705.4 L737.5,705.3 L738.6,705.4 L739.7,705.2 L740.9,705.0 L742.0,705.0 L743.1,704.9 L744.2,704.9 L745.3,704.9 L746.4,705.0 L747.5,705.1 L748.6,705.0 L749.8,704.9 L750.9,705.0 L752.0,705.0 L753.1,704.7 L754.2,704.9 L755.3,704.7 L756.4,704.6 L757.6,704.5 L758.7,704.7 L759.8,704.6 L760.9,704.8 L762.0,704.9 L763.1,705.0 L764.2,704.9 L765.4,705.0 L766.5,704.9 L767.6,704.8 L768.7,704.8 L769.8,704.8 L770.9,704.5 L772.0,704.5 L773.2,704.5 L774.3,704.5 L775.4,704.5 L776.5,704.4 L777.6,704.4 L778.7,704.4 L779.8,704.3 L780.9,704.3 L782.1,704.3 L783.2,704.2 L784.3,704.1 L785.4,703.9 L786.5,703.8 L787.6,703.8 L788.7,703.8 L789.9,703.8 L791.0,703.8 L792.1,703.9 L793.2,704.2 L794.3,704.1 L795.4,704.3 L796.5,704.2 L797.7,704.1 L798.8,703.9 L799.9,703.9 L801.0,703.6 L802.1,703.7 L803.2,703.6 L804.3,703.6 L805.5,703.6 L806.6,703.9 L807.7,703.8 L808.8,703.8 L809.9,703.7 L811.0,703.4 L812.1,703.3 L813.2,703.2 L814.4,703.1 L815.5,703.2 L816.6,703.5 L817.7,703.4 L818.8,703.6 L819.9,703.6 L821.0,703.4 L822.2,703.3 L823.3,703.3 L824.4,703.0 L825.5,703.0 L826.6,703.1 L827.7,703.2 L828.8,703.1 L830.0,703.0 L831.1,703.0 L832.2,702.8 L833.3,702.6 L834.4,702.6 L835.5,702.5 L836.6,702.2 L837.8,702.1 L838.9,702.0 L840.0,701.7 L841.1,701.3 L842.2,700.9 L843.3,700.5 L844.4,699.8 L845.5,699.2 L846.7,698.7 L847.8,698.1 L848.9,697.6 L850.0,696.9 L851.1,696.2 L852.2,695.5 L853.3,694.8 L854.5,694.1 L855.6,693.5 L856.7,692.9 L857.8,692.5 L858.9,692.2 L860.0,692.2 L861.1,692.1 L862.3,692.3 L863.4,692.6 L864.5,692.9 L865.6,693.2 L866.7,693.7 L867.8,694.2 L868.9,694.7 L870.1,695.3 L871.2,695.8 L872.3,695.8 L873.4,694.8 L874.5,691.8 L875.6,686.6 L876.7,680.5 L877.8,674.6 L879.0,664.7 L880.1,653.7 L881.2,642.4 L882.3,630.2 L883.4,615.3 L884.5,599.7 L885.6,583.9 L886.8,567.0 L887.9,546.5 L889.0,519.4 L890.1,514.0 L891.2,517.1 L892.3,536.3 L893.4,561.8 L894.6,579.6 L895.7,596.1 L896.8,611.9 L897.9,627.5 L899.0,640.6 L900.1,652.2 L901.2,663.4 L902.4,674.7 L903.5,682.2 L904.6,688.6 L905.7,694.7 L906.8,699.5 L907.9,701.4 L909.0,702.5 L910.1,702.9 L911.3,703.4 L912.4,703.8 L913.5,704.2 L914.6,704.2 L915.7,704.3 L916.8,704.4 L917.9,704.3 L919.1,704.1 L920.2,704.4 L921.3,704.4 L922.4,704.5 L923.5,704.3 L924.6,704.4 L925.7,704.3 L926.9,704.4 L928.0,704.4 L929.1,704.9 L930.2,704.9 L931.3,704.8 L932.4,705.1 L933.5,705.1 L934.7,704.9 L935.8,704.8 L936.9,705.0 L938.0,704.9 L939.1,705.0 L940.2,704.9 L941.3,705.0 L942.4,704.9 L943.6,704.9 L944.7,704.8 L945.8,705.0 L946.9,705.0 L948.0,705.0 L949.1,705.0 L950.2,705.0 L951.4,704.9 L952.5,704.8 L953.6,704.8 L954.7,704.8 L955.8,704.8 L956.9,705.0 L958.0,705.2 L959.2,705.3 L960.3,705.2 L961.4,705.2 L962.5,705.1 L963.6,704.9 L964.7,704.9 L965.8,705.0 L967.0,705.0 L968.1,704.9 L969.2,704.8 L970.3,704.9 L971.4,704.7 L972.5,704.7 L973.6,704.7 L974.7,704.8 L975.9,704.6 L977.0,704.9 L978.1,704.8 L979.2,704.9 L980.3,704.9 L981.4,705.0 L982.5,704.9 L983.7,704.9 L984.8,705.0 L985.9,705.1 L987.0,705.0 L988.1,705.0 L989.2,705.2 L990.3,705.0 L991.5,705.0 L992.6,705.0 L993.7,704.7 L994.8,704.5 L995.9,704.6 L997.0,704.7 L998.1,704.8 L999.3,704.9 L1000.4,704.9 L1001.5,704.8 L1002.6,704.7 L1003.7,704.5 L1004.8,704.6 L1005.9,704.6 L1007.1,704.8 L1008.2,705.0 L1009.3,705.2 L1010.4,705.2 L1011.5,705.2 L1012.6,705.0 L1013.7,704.7 L1014.8,704.7 L1016.0,704.6 L1017.1,704.6 L1018.2,704.6 L1019.3,704.7 L1020.4,704.8 L1021.5,704.8 L1022.6,704.8 L1023.8,704.9 L1024.9,705.0 L1026.0,704.9 L1027.1,705.0 L1028.2,705.0 L1029.3,704.9 L1030.4,704.8 L1031.6,704.9 L1032.7,704.7 L1033.8,704.8 L1034.9,704.9 L1036.0,705.0 L1037.1,704.9 L1038.2,705.0 L1039.4,705.0 L1040.5,705.0 L1041.6,704.9 L1042.7,704.9 L1043.8,705.0 L1044.9,704.9 L1046.0,705.0 L1047.1,705.0 L1048.3,704.9 L1049.4,704.8 L1050.5,704.7 L1051.6,704.7 L1052.7,704.9 L1053.8,705.1 L1054.9,705.2 L1056.1,705.1 L1057.2,705.1 L1058.3,704.9 L1059.4,704.7 L1060.5,704.8 L1061.6,705.0 L1062.7,704.9 L1063.9,704.7 L1065.0,704.9 L1066.1,704.9 L1067.2,704.8 L1068.3,704.8 L1069.4,704.9 L1070.5,704.9 L1071.7,705.0 L1072.8,705.2 L1073.9,705.4 L1075.0,705.4 L1076.1,705.4 L1077.2,705.4 L1078.3,705.1 L1079.4,704.9 L1080.6,704.9 L1081.7,704.8 L1082.8,704.7 L1083.9,704.7 L1085.0,704.9 L1086.1,704.8 L1087.2,704.8 L1088.4,704.7 L1089.5,704.9 L1090.6,704.9 L1091.7,704.9 L1092.8,705.1 L1093.9,705.1 L1095.0,705.0 L1096.2,705.1 L1097.3,705.3 L1098.4,705.2 L1099.5,705.2 L1100.6,705.1 L1101.7,704.8 L1102.8,704.5 L1104.0,704.6 L1105.1,704.7 L1106.2,704.8 L1107.3,705.0 L1108.4,705.0 L1109.5,705.1 L1110.6,705.0 L1111.7,705.0 L1112.9,704.9 L1114.0,705.2 L1115.1,705.2 L1116.2,705.4 L1117.3,705.3 L1118.4,705.2 L1119.5,705.1 L1120.7,704.8 L1121.8,704.7 L1122.9,704.7 L1124.0,704.9 L1125.1,704.8 L1126.2,704.8 L1127.3,704.9 L1128.5,704.8 L1129.6,704.6 L1130.7,704.8 L1131.8,704.9 L1132.9,705.1 L1134.0,705.0 L1135.1,705.3 L1136.3,705.1 L1137.4,705.4 L1138.5,705.2 L1139.6,705.2 L1140.7,705.2 L1141.8,705.2 L1142.9,704.9 L1144.0,705.0 L1145.2,705.1 L1146.3,705.2 L1147.4,705.2 L1148.5,705.2 L1149.6,705.0 L1150.7,705.0 L1151.8,704.9 L1153.0,705.0 L1154.1,705.0 L1155.2,705.0 L1156.3,705.1 L1157.4,705.2 L1158.5,705.1 L1159.6,705.1 L1160.8,705.4 L1161.9,705.2 L1163.0,705.0 L1164.1,704.8 L1165.2,704.6 L1166.3,704.5 L1167.4,704.7 L1168.6,704.9 L1169.7,704.9 L1170.8,705.1 L1171.9,705.1 L1173.0,704.9 L1174.1,705.0 L1175.2,705.1 L1176.3,704.9 L1177.5,705.0 L1178.6,704.9 L1179.7,704.8 L1180.8,704.8 L1181.9,705.0 L1183.0,705.2 L1184.1,705.3 L1185.3,705.4 L1186.4,705.3 L1187.5,705.2 L1188.6,705.0 L1189.7,704.9 L1190.8,704.8 L1191.9,704.8 L1193.1,704.7 L1194.2,704.8 L1195.3,704.9 L1196.4,704.9 L1197.5,705.0 L1198.6,705.2 L1199.7,705.1 L1200.9,705.0 L1202.0,705.1 L1203.1,705.0 L1204.2,705.0 L1205.3,705.1 L1206.4,705.1 L1207.5,705.0 L1208.6,704.9 L1209.8,704.9 L1210.9,704.9 L1212.0,704.8 L1213.1,704.8 L1214.2,705.0 L1215.3,705.0 L1216.4,704.9 L1217.6,705.0 L1218.7,705.0 L1219.8,705.0 L1220.9,705.0 L1222.0,705.1 L1223.1,705.0 L1224.2,705.0 L1225.4,705.0 L1226.5,705.0 L1227.6,704.8 L1228.7,704.8 L1229.8,704.7 L1230.9,704.5 L1232.0,704.6 L1233.2,704.8 L1234.3,704.9 L1235.4,704.8 L1236.5,704.9 L1237.6,704.8 L1238.7,704.8 L1239.8,704.8 L1240.9,705.0 L1242.1,705.1 L1243.2,705.0 L1244.3,705.0 L1245.4,705.0 L1246.5,705.0 L1247.6,705.1 L1248.7,705.1 L1249.9,704.9 L1251.0,704.9 L1252.1,705.0 L1253.2,704.8 L1254.3,704.8 L1255.4,704.8 L1256.5,705.1 L1257.7,705.0 L1258.8,705.1 L1259.9,705.0 L1261.0,705.4 L1262.1,705.1 L1263.2,705.2 L1264.3,705.0 L1265.5,705.2 L1266.6,704.8 L1267.7,704.8 L1268.8,704.7 L1269.9,704.7 L1271.0,704.7 L1272.1,704.9 L1273.2,704.8 L1274.4,705.0 L1275.5,705.0 L1276.6,704.9 L1277.7,704.8 L1278.8,705.0 L1279.9,705.0 L1281.0,704.9 L1282.2,704.9 L1283.3,704.9 L1284.4,704.9 L1285.5,704.8 L1286.6,704.8 L1287.7,704.9 L1288.8,704.9 L1290.0,704.9 L1291.1,705.0 L1292.2,704.9 L1293.3,704.9 L1294.4,705.0 L1295.5,705.1 L1296.6,705.1 L1297.8,705.4 L1298.9,705.3 L1300.0,705.1 L1301.1,705.0 L1302.2,704.9 L1303.3,704.9 L1304.4,705.0 L1305.5,705.1 L1306.7,705.0 L1307.8,705.1 L1308.9,705.0 L1310.0,705.0 L1311.1,705.0 L1312.2,705.2 L1313.3,705.1 L1314.5,705.0 L1315.6,705.0 L1316.7,705.1 L1317.8,705.0 L1318.9,705.2 L1320.0,705.2 L1321.1,705.1 L1322.3,705.1 L1323.4,705.1 L1324.5,705.0 L1325.6,705.0 L1326.7,705.0 L1327.8,705.0 L1328.9,705.0 L1330.1,704.9 L1331.2,705.0 L1332.3,705.0 L1333.4,705.0 L1334.5,704.9 L1335.6,704.9 L1336.7,704.9 L1337.8,705.0 L1339.0,705.0 L1340.1,705.0 L1341.2,705.1 L1342.3,705.0 L1343.4,705.0 L1344.5,705.1 L1345.6,705.4 L1346.8,705.2 L1347.9,705.1 L1349.0,705.1 L1350.1,705.0 L1351.2,704.9 L1352.3,705.1 L1353.4,705.2 L1354.6,705.1 L1355.7,705.0 L1356.8,705.0 L1357.9,704.9 L1359.0,705.0 L1360.1,705.0 L1361.2,704.9 L1362.4,704.9 L1363.5,704.8 L1364.6,704.6 L1365.7,704.7 L1366.8,704.9 L1367.9,705.1 L1369.0,705.3 L1370.1,705.3 L1371.3,705.3 L1372.4,705.2 L1373.5,704.9 L1374.6,704.9 L1375.7,705.2 L1376.8,705.2 L1377.9,705.1 L1379.1,705.1 L1380.2,704.9 L1381.3,704.7 L1382.4,704.6 L1383.5,704.8 L1384.6,704.7 L1385.7,704.7 L1386.9,704.8 L1388.0,704.9 L1389.1,704.7 L1390.2,704.9 L1391.3,705.1 L1392.4,705.1 L1393.5,705.1 L1394.7,705.2 L1395.8,705.1 L1396.9,705.1 L1398.0,705.0 L1399.1,704.9 L1400.2,704.8 L1401.3,704.9 L1402.4,704.8 L1403.6,704.8 L1404.7,704.8 L1405.8,704.7 L1406.9,705.0 L1408.0,705.0 L1409.1,705.2 L1410.2,705.3 L1411.4,705.5 L1412.5,705.3 L1413.6,705.4 L1414.7,705.3 L1415.8,705.4 L1416.9,705.3 L1418.0,705.3 L1419.2,705.3 L1420.3,705.0 L1421.4,704.9 L1422.5,704.8 L1423.6,704.7 L1424.7,704.6 L1425.8,704.9 L1427.0,704.9 L1428.1,705.1 L1429.2,705.1 L1430.3,705.0 L1431.4,705.0 L1432.5,705.0 L1433.6,704.9 L1434.7,704.9 L1435.9,705.0 L1437.0,705.1 L1438.1,705.1 L1439.2,705.1 L1440.3,705.1 L1441.4,705.0 L1442.5,704.8 L1443.7,704.8 L1444.8,705.0 L1445.9,705.1 L1447.0,705.0 L1448.1,705.2 L1449.2,705.0 L1450.3,705.0 L1451.5,705.0 L1452.6,705.0 L1453.7,704.8 L1454.8,704.9 L1455.9,705.0 L1457.0,705.0 L1458.1,705.0 L1459.3,705.0 L1460.4,705.1 L1461.5,704.9 L1462.6,704.8 L1463.7,704.9 L1464.8,704.9 L1465.9,704.9 L1467.0,705.1 L1468.2,705.1 L1469.3,705.1 L1470.4,705.2 L1471.5,705.1 L1472.6,705.0 L1473.7,704.9 L1474.8,704.7 L1476.0,704.8 L1477.1,704.8 L1478.2,704.8 L1479.3,704.9 L1480.4,705.1 L1481.5,705.1 L1482.6,705.2 L1483.8,705.1 L1484.9,705.2 L1486.0,705.1 L1487.1,705.1 L1488.2,705.0 L1489.3,705.0 L1490.4,704.9 L1491.6,705.0 L1492.7,705.0 L1493.8,705.0 L1494.9,704.8 L1496.0,704.9 L1497.1,704.8 L1498.2,704.8 L1499.3,704.9 L1500.5,705.1 L1501.6,705.1 L1502.7,704.9 L1503.8,705.0 L1504.9,705.0 L1506.0,705.0 L1507.1,705.1 L1508.3,705.1 L1509.4,705.1 L1510.5,704.9 L1511.6,704.8 L1512.7,704.8 L1513.8,704.7 L1514.9,704.8 L1516.1,704.9 L1517.2,705.1 L1518.3,705.0 L1519.4,705.1 L1520.5,705.2 L1521.6,705.3 L1522.7,705.2 L1523.9,705.1 L1525.0,705.1 L1526.1,704.9 L1527.2,704.7 L1528.3,704.5 L1529.4,704.6 L1530.5,704.4 L1531.6,704.6 L1532.8,704.5 L1533.9,704.7 L1535.0,704.7 L1536.1,704.7 L1537.2,704.8 L1538.3,704.7 L1539.4,704.7 L1540.6,704.8 L1541.7,704.7 L1542.8,704.6 L1543.9,704.9 L1545.0,704.9 L1546.1,704.9 L1547.2,705.1 L1548.4,705.2 L1549.5,704.9 L1550.6,704.9 L1551.7,704.9 L1552.8,704.8 L1553.9,704.8 L1555.0,704.9 L1556.2,705.0 L1557.3,704.9 L1558.4,704.9 L1559.5,704.8 L1560.6,704.9 L1561.7,704.9 L1562.8,704.9 L1563.9,705.0 L1565.1,705.2 L1566.2,705.2 L1567.3,705.3 L1568.4,705.3 L1569.5,705.2 L1570.6,705.1 L1571.7,705.2 L1572.9,705.3 L1574.0,705.3 L1575.1,705.3 L1576.2,705.4 L1577.3,705.4 L1578.4,705.1 L1579.5,705.2 L1580.7,705.2 L1581.8,705.2 L1582.9,705.0 L1584.0,705.1 L1585.1,704.9 L1586.2,704.9 L1587.3,705.0 L1588.5,705.0 L1589.6,704.9 L1590.7,705.0 L1591.8,704.9 L1592.9,704.8 L1594.0,704.9 L1595.1,705.0 L1596.2,705.0 L1597.4,704.9 L1598.5,705.0 L1599.6,705.0 L1600.7,704.9 L1601.8,705.1 L1602.9,705.1 L1604.0,705.0 L1605.2,704.9 L1606.3,704.8 L1607.4,704.7 L1608.5,704.9 L1609.6,704.9 L1610.7,705.1 L1611.8,705.2 L1613.0,705.3 L1614.1,705.1 L1615.2,705.1 L1616.3,705.1 L1617.4,705.0 L1618.5,705.0 L1619.6,705.0 L1620.8,705.0 L1621.9,705.0 L1623.0,704.9 L1624.1,704.9 L1625.2,705.1 L1626.3,704.9 L1627.4,704.8 L1628.5,704.8 L1629.7,704.7 L1630.8,704.8 L1631.9,704.8 L1633.0,705.0 L1634.1,704.9 L1635.2,704.9 L1636.3,705.1 L1637.5,705.1 L1638.6,705.2 L1639.7,705.3 L1640.8,705.3 L1641.9,705.2 L1643.0,705.0 L1644.1,704.9 L1645.3,705.0 L1646.4,704.9 L1647.5,704.9 L1648.6,705.3 L1649.7,705.2 L1650.8,705.1 L1651.9,705.2 L1653.1,705.0 L1654.2,704.7 L1655.3,704.9 L1656.4,704.8 L1657.5,704.7 L1658.6,704.9 L1659.7,704.9 L1660.8,704.9 L1662.0,704.9 L1663.1,705.0 L1664.2,705.0 L1665.3,705.2 L1666.4,705.2 L1667.5,705.2 L1668.6,705.2 L1669.8,705.2 L1670.9,705.3 L1672.0,705.1 L1673.1,705.3 L1674.2,705.2 L1675.3,705.4 L1676.4,705.0 L1677.6,705.0 L1678.7,704.9 L1679.8,705.0 L1680.9,704.9 L1682.0,705.0 L1683.1,705.1 L1684.2,705.2 L1685.4,705.1 L1686.5,705.0 L1687.6,705.1 L1688.7,705.0 L1689.8,704.8 L1690.9,704.7 L1692.0,704.8 L1693.1,704.6 L1694.3,704.7 L1695.4,704.8 L1696.5,704.8 L1697.6,704.7 L1698.7,704.8 L1699.8,704.8 L1700.9,704.8 L1702.1,704.8 L1703.2,704.9 L1704.3,704.8 L1705.4,704.6 L1706.5,704.5 L1707.6,704.3 L1708.7,704.2 L1709.9,703.9 L1711.0,703.8 L1712.1,703.5 L1713.2,703.1 L1714.3,702.7 L1715.4,702.7 L1716.5,702.5 L1717.7,702.3 L1718.8,702.1 L1719.9,701.8 L1721.0,701.3 L1722.1,700.8 L1723.2,700.4 L1724.3,700.2 L1725.4,700.3 L1726.6,700.4 L1727.7,700.7 L1728.8,700.8 L1729.9,701.0 L1731.0,701.2 L1732.1,701.4 L1733.2,701.8 L1734.4,702.1 L1735.5,702.6 L1736.6,702.7 L1737.7,703.0 L1738.8,703.2 L1739.9,703.4 L1741.0,703.4 L1742.2,703.8 L1743.3,704.1 L1744.4,704.2 L1745.5,704.4 L1746.6,704.7 L1747.7,704.6 L1748.8,704.4 L1750.0,704.7 L1751.1,704.7 L1752.2,704.5 L1753.3,704.4 L1754.4,704.5 L1755.5,704.3 L1756.6,704.3 L1757.7,704.5 L1758.9,704.7 L1760.0,704.8 L1761.1,704.9 L1762.2,705.1 L1763.3,705.1 L1764.4,705.0 L1765.5,705.0 L1766.7,705.0 L1767.8,705.0 L1768.9,704.9 L1770.0,705.0" stroke="#FD0505" stroke-width="13"/>
<path d="M211.8,942.9 L212.9,942.8 L214.0,942.8 L215.1,942.7 L216.3,942.7 L217.4,942.6 L218.5,942.7 L219.6,942.7 L220.7,942.7 L221.8,942.7 L222.9,942.8 L224.1,942.9 L225.2,942.9 L226.3,943.0 L227.4,942.9 L228.5,942.8 L229.6,942.7 L230.7,942.7 L231.8,942.6 L233.0,942.6 L234.1,942.8 L235.2,942.8 L236.3,942.8 L237.4,942.8 L238.5,942.9 L239.6,942.8 L240.8,942.7 L241.9,942.7 L243.0,942.8 L244.1,942.9 L245.2,942.8 L246.3,942.9 L247.4,942.8 L248.6,942.6 L249.7,942.5 L250.8,942.5 L251.9,942.6 L253.0,942.6 L254.1,942.7 L255.2,942.8 L256.4,942.8 L257.5,942.6 L258.6,942.6 L259.7,942.7 L260.8,942.6 L261.9,942.6 L263.0,942.6 L264.1,942.6 L265.3,942.7 L266.4,942.8 L267.5,942.9 L268.6,943.1 L269.7,943.2 L270.8,943.0 L271.9,943.0 L273.1,942.9 L274.2,942.8 L275.3,942.6 L276.4,942.7 L277.5,942.7 L278.6,942.8 L279.7,943.0 L280.9,943.0 L282.0,943.0 L283.1,942.9 L284.2,942.9 L285.3,942.8 L286.4,942.9 L287.5,942.9 L288.7,942.9 L289.8,943.0 L290.9,943.1 L292.0,943.0 L293.1,943.1 L294.2,943.1 L295.3,943.1 L296.4,942.9 L297.6,942.9 L298.7,942.8 L299.8,942.8 L300.9,942.8 L302.0,942.9 L303.1,942.8 L304.2,942.9 L305.4,942.9 L306.5,942.8 L307.6,942.7 L308.7,942.6 L309.8,942.5 L310.9,942.5 L312.0,942.5 L313.2,942.7 L314.3,942.7 L315.4,942.8 L316.5,942.8 L317.6,942.8 L318.7,942.8 L319.8,943.0 L321.0,943.0 L322.1,942.9 L323.2,942.9 L324.3,942.9 L325.4,942.7 L326.5,942.5 L327.6,942.4 L328.7,942.2 L329.9,942.0 L331.0,941.6 L332.1,941.3 L333.2,941.0 L334.3,940.5 L335.4,939.6 L336.5,938.2 L337.7,936.6 L338.8,934.4 L339.9,930.3 L341.0,923.2 L342.1,909.7 L343.2,893.5 L344.3,872.5 L345.5,844.1 L346.6,819.7 L347.7,799.1 L348.8,778.9 L349.9,762.3 L351.0,754.0 L352.1,756.5 L353.3,764.9 L354.4,778.7 L355.5,796.7 L356.6,819.6 L357.7,847.6 L358.8,867.3 L359.9,883.9 L361.0,898.9 L362.2,912.3 L363.3,924.0 L364.4,929.7 L365.5,933.4 L366.6,935.5 L367.7,936.9 L368.8,938.3 L370.0,939.3 L371.1,940.2 L372.2,940.8 L373.3,941.2 L374.4,941.4 L375.5,941.7 L376.6,941.9 L377.8,942.1 L378.9,942.3 L380.0,942.4 L381.1,942.5 L382.2,942.7 L383.3,942.7 L384.4,942.8 L385.6,942.9 L386.7,942.9 L387.8,942.9 L388.9,942.9 L390.0,942.9 L391.1,942.8 L392.2,942.9 L393.3,943.0 L394.5,942.9 L395.6,943.0 L396.7,943.0 L397.8,942.9 L398.9,942.9 L400.0,943.0 L401.1,942.9 L402.3,942.9 L403.4,942.9 L404.5,942.7 L405.6,942.7 L406.7,942.7 L407.8,942.8 L408.9,942.8 L410.1,943.0 L411.2,943.1 L412.3,943.1 L413.4,943.1 L414.5,942.9 L415.6,942.7 L416.7,942.6 L417.9,942.7 L419.0,942.7 L420.1,942.8 L421.2,942.8 L422.3,942.8 L423.4,942.8 L424.5,942.7 L425.6,942.8 L426.8,942.8 L427.9,943.0 L429.0,943.1 L430.1,943.1 L431.2,943.0 L432.3,943.0 L433.4,942.9 L434.6,942.8 L435.7,942.8 L436.8,942.9 L437.9,943.0 L439.0,943.0 L440.1,942.9 L441.2,942.9 L442.4,942.7 L443.5,942.5 L444.6,942.4 L445.7,942.2 L446.8,942.2 L447.9,941.9 L449.0,941.7 L450.2,941.4 L451.3,941.2 L452.4,940.8 L453.5,940.6 L454.6,940.3 L455.7,940.1 L456.8,939.9 L457.9,940.0 L459.1,940.0 L460.2,940.3 L461.3,940.3 L462.4,940.6 L463.5,940.8 L464.6,941.1 L465.7,941.3 L466.9,941.8 L468.0,942.0 L469.1,942.2 L470.2,942.5 L471.3,942.6 L472.4,942.7 L473.5,942.8 L474.7,942.9 L475.8,942.7 L476.9,942.7 L478.0,942.9 L479.1,943.0 L480.2,943.0 L481.3,943.2 L482.5,943.3 L483.6,943.2 L484.7,943.3 L485.8,943.3 L486.9,943.3 L488.0,943.3 L489.1,943.1 L490.2,942.9 L491.4,942.9 L492.5,942.8 L493.6,942.7 L494.7,942.8 L495.8,942.8 L496.9,943.0 L498.0,943.1 L499.2,943.1 L500.3,943.2 L501.4,943.2 L502.5,943.1 L503.6,943.1 L504.7,943.2 L505.8,943.0 L507.0,943.1 L508.1,943.1 L509.2,943.0 L510.3,942.9 L511.4,943.0 L512.5,943.0 L513.6,943.1 L514.8,943.2 L515.9,943.1 L517.0,943.2 L518.1,943.0 L519.2,943.0 L520.3,942.9 L521.4,942.9 L522.5,942.9 L523.7,943.0 L524.8,943.0 L525.9,943.1 L527.0,943.2 L528.1,943.2 L529.2,943.2 L530.3,943.2 L531.5,943.2 L532.6,943.2 L533.7,943.1 L534.8,943.1 L535.9,943.0 L537.0,942.9 L538.1,942.7 L539.3,942.8 L540.4,942.7 L541.5,942.9 L542.6,943.0 L543.7,943.0 L544.8,943.0 L545.9,943.0 L547.1,943.0 L548.2,942.9 L549.3,942.9 L550.4,942.9 L551.5,943.0 L552.6,942.9 L553.7,943.0 L554.8,943.1 L556.0,943.1 L557.1,943.1 L558.2,943.1 L559.3,943.0 L560.4,942.8 L561.5,942.8 L562.6,942.8 L563.8,942.8 L564.9,942.7 L566.0,943.0 L567.1,943.0 L568.2,943.1 L569.3,943.2 L570.4,943.2 L571.6,942.9 L572.7,942.9 L573.8,942.9 L574.9,942.9 L576.0,943.0 L577.1,943.2 L578.2,943.1 L579.4,943.1 L580.5,943.2 L581.6,943.1 L582.7,942.9 L583.8,943.0 L584.9,943.0 L586.0,942.8 L587.1,942.8 L588.3,942.9 L589.4,942.6 L590.5,942.4 L591.6,942.0 L592.7,941.3 L593.8,939.9 L594.9,938.2 L596.1,935.6 L597.2,932.9 L598.3,930.2 L599.4,928.2 L600.5,927.0 L601.6,927.2 L602.7,928.4 L603.9,930.5 L605.0,933.2 L606.1,935.7 L607.2,937.9 L608.3,939.7 L609.4,941.0 L610.5,941.9 L611.7,942.6 L612.8,942.9 L613.9,943.0 L615.0,943.1 L616.1,943.1 L617.2,943.0 L618.3,943.0 L619.4,943.1 L620.6,943.1 L621.7,943.2 L622.8,943.2 L623.9,943.3 L625.0,943.1 L626.1,943.2 L627.2,943.1 L628.4,943.1 L629.5,943.1 L630.6,943.1 L631.7,943.0 L632.8,942.9 L633.9,942.9 L635.0,942.8 L636.2,942.8 L637.3,942.8 L638.4,942.8 L639.5,942.8 L640.6,942.9 L641.7,942.9 L642.8,942.9 L644.0,943.0 L645.1,943.0 L646.2,942.8 L647.3,942.8 L648.4,942.9 L649.5,942.9 L650.6,943.1 L651.7,943.3 L652.9,943.3 L654.0,943.3 L655.1,943.2 L656.2,943.1 L657.3,943.2 L658.4,943.1 L659.5,943.2 L660.7,943.2 L661.8,943.3 L662.9,943.2 L664.0,943.2 L665.1,943.2 L666.2,943.1 L667.3,943.0 L668.5,943.0 L669.6,943.1 L670.7,943.2 L671.8,943.3 L672.9,943.3 L674.0,943.3 L675.1,943.2 L676.3,943.1 L677.4,943.1 L678.5,943.2 L679.6,943.0 L680.7,943.0 L681.8,943.0 L682.9,942.8 L684.0,942.8 L685.2,943.0 L686.3,943.1 L687.4,943.1 L688.5,943.2 L689.6,943.4 L690.7,943.2 L691.8,943.1 L693.0,943.2 L694.1,943.1 L695.2,942.9 L696.3,943.0 L697.4,943.1 L698.5,943.1 L699.6,943.2 L700.8,943.3 L701.9,943.5 L703.0,943.4 L704.1,943.3 L705.2,943.2 L706.3,943.2 L707.4,943.1 L708.6,943.1 L709.7,943.2 L710.8,943.2 L711.9,943.2 L713.0,943.2 L714.1,943.3 L715.2,943.2 L716.3,943.2 L717.5,943.2 L718.6,943.1 L719.7,943.1 L720.8,943.0 L721.9,942.9 L723.0,943.0 L724.1,943.0 L725.3,943.1 L726.4,943.1 L727.5,943.1 L728.6,943.1 L729.7,943.2 L730.8,943.1 L731.9,943.2 L733.1,943.2 L734.2,943.1 L735.3,942.9 L736.4,942.9 L737.5,942.9 L738.6,943.0 L739.7,943.1 L740.9,943.2 L742.0,943.1 L743.1,943.1 L744.2,943.0 L745.3,943.0 L746.4,943.1 L747.5,943.2 L748.6,943.2 L749.8,943.1 L750.9,943.1 L752.0,943.2 L753.1,943.1 L754.2,943.1 L755.3,943.3 L756.4,943.1 L757.6,943.2 L758.7,943.2 L759.8,943.2 L760.9,943.2 L762.0,943.3 L763.1,943.1 L764.2,943.2 L765.4,943.1 L766.5,943.2 L767.6,943.1 L768.7,943.2 L769.8,943.1 L770.9,943.2 L772.0,943.2 L773.2,943.2 L774.3,943.2 L775.4,943.2 L776.5,943.1 L777.6,943.1 L778.7,943.1 L779.8,943.0 L780.9,943.0 L782.1,943.1 L783.2,943.2 L784.3,943.3 L785.4,943.2 L786.5,943.1 L787.6,943.0 L788.7,943.0 L789.9,943.0 L791.0,943.0 L792.1,943.1 L793.2,943.1 L794.3,943.0 L795.4,943.0 L796.5,943.2 L797.7,943.1 L798.8,943.2 L799.9,943.3 L801.0,943.3 L802.1,943.3 L803.2,943.2 L804.3,943.2 L805.5,943.2 L806.6,943.2 L807.7,943.2 L808.8,943.4 L809.9,943.4 L811.0,943.3 L812.1,943.3 L813.2,943.2 L814.4,943.1 L815.5,943.2 L816.6,943.2 L817.7,943.3 L818.8,943.3 L819.9,943.2 L821.0,943.1 L822.2,943.0 L823.3,942.8 L824.4,942.7 L825.5,942.8 L826.6,942.9 L827.7,942.9 L828.8,942.9 L830.0,942.9 L831.1,942.8 L832.2,942.9 L833.3,942.7 L834.4,942.7 L835.5,942.8 L836.6,942.7 L837.8,942.5 L838.9,942.5 L840.0,942.3 L841.1,942.1 L842.2,942.0 L843.3,941.8 L844.4,941.5 L845.5,941.4 L846.7,941.2 L847.8,941.0 L848.9,941.0 L850.0,940.9 L851.1,940.8 L852.2,940.7 L853.3,940.7 L854.5,940.7 L855.6,940.9 L856.7,941.1 L857.8,941.4 L858.9,941.5 L860.0,941.8 L861.1,941.9 L862.3,942.0 L863.4,942.1 L864.5,942.4 L865.6,942.7 L866.7,943.0 L867.8,943.1 L868.9,943.3 L870.1,943.2 L871.2,943.1 L872.3,943.0 L873.4,943.1 L874.5,943.2 L875.6,943.3 L876.7,943.2 L877.8,943.4 L879.0,943.3 L880.1,943.3 L881.2,943.3 L882.3,943.2 L883.4,943.2 L884.5,943.2 L885.6,943.2 L886.8,943.2 L887.9,943.3 L889.0,943.3 L890.1,943.2 L891.2,943.2 L892.3,943.2 L893.4,943.3 L894.6,943.3 L895.7,943.3 L896.8,943.4 L897.9,943.5 L899.0,943.5 L900.1,943.5 L901.2,943.5 L902.4,943.4 L903.5,943.3 L904.6,943.2 L905.7,943.3 L906.8,943.3 L907.9,943.3 L909.0,943.2 L910.1,943.3 L911.3,943.2 L912.4,943.3 L913.5,943.2 L914.6,943.3 L915.7,943.1 L916.8,943.3 L917.9,943.3 L919.1,943.3 L920.2,943.3 L921.3,943.3 L922.4,943.2 L923.5,943.3 L924.6,943.2 L925.7,943.2 L926.9,943.2 L928.0,943.2 L929.1,943.0 L930.2,943.1 L931.3,943.2 L932.4,943.1 L933.5,943.1 L934.7,943.3 L935.8,943.3 L936.9,943.3 L938.0,943.5 L939.1,943.5 L940.2,943.4 L941.3,943.4 L942.4,943.4 L943.6,943.3 L944.7,943.2 L945.8,943.3 L946.9,943.2 L948.0,943.3 L949.1,943.3 L950.2,943.4 L951.4,943.4 L952.5,943.5 L953.6,943.3 L954.7,943.3 L955.8,943.3 L956.9,943.3 L958.0,943.3 L959.2,943.6 L960.3,943.6 L961.4,943.6 L962.5,943.6 L963.6,943.7 L964.7,943.3 L965.8,943.4 L967.0,943.3 L968.1,943.2 L969.2,943.0 L970.3,943.1 L971.4,943.0 L972.5,943.1 L973.6,943.3 L974.7,943.3 L975.9,943.3 L977.0,943.2 L978.1,943.2 L979.2,943.2 L980.3,943.2 L981.4,943.1 L982.5,943.2 L983.7,943.2 L984.8,943.1 L985.9,943.1 L987.0,943.2 L988.1,943.3 L989.2,943.2 L990.3,943.2 L991.5,943.1 L992.6,943.2 L993.7,943.2 L994.8,943.2 L995.9,943.3 L997.0,943.4 L998.1,943.4 L999.3,943.4 L1000.4,943.4 L1001.5,943.4 L1002.6,943.4 L1003.7,943.4 L1004.8,943.4 L1005.9,943.4 L1007.1,943.3 L1008.2,943.3 L1009.3,943.4 L1010.4,943.3 L1011.5,943.3 L1012.6,943.4 L1013.7,943.3 L1014.8,943.3 L1016.0,943.4 L1017.1,943.4 L1018.2,943.2 L1019.3,943.4 L1020.4,943.2 L1021.5,943.2 L1022.6,943.2 L1023.8,943.3 L1024.9,943.1 L1026.0,943.1 L1027.1,943.2 L1028.2,943.2 L1029.3,943.2 L1030.4,943.3 L1031.6,943.4 L1032.7,943.4 L1033.8,943.3 L1034.9,943.4 L1036.0,943.4 L1037.1,943.3 L1038.2,943.2 L1039.4,943.4 L1040.5,943.2 L1041.6,943.1 L1042.7,943.3 L1043.8,943.3 L1044.9,943.2 L1046.0,943.4 L1047.1,943.4 L1048.3,943.5 L1049.4,943.5 L1050.5,943.3 L1051.6,943.3 L1052.7,943.3 L1053.8,943.2 L1054.9,943.3 L1056.1,943.3 L1057.2,943.2 L1058.3,943.2 L1059.4,943.2 L1060.5,943.2 L1061.6,943.4 L1062.7,943.3 L1063.9,943.4 L1065.0,943.4 L1066.1,943.2 L1067.2,943.2 L1068.3,943.3 L1069.4,943.3 L1070.5,943.3 L1071.7,943.4 L1072.8,943.5 L1073.9,943.5 L1075.0,943.4 L1076.1,943.4 L1077.2,943.3 L1078.3,943.3 L1079.4,943.4 L1080.6,943.4 L1081.7,943.5 L1082.8,943.5 L1083.9,943.5 L1085.0,943.3 L1086.1,943.4 L1087.2,943.4 L1088.4,943.4 L1089.5,943.4 L1090.6,943.4 L1091.7,943.4 L1092.8,943.4 L1093.9,943.3 L1095.0,943.4 L1096.2,943.4 L1097.3,943.3 L1098.4,943.2 L1099.5,943.3 L1100.6,943.2 L1101.7,943.2 L1102.8,943.2 L1104.0,943.2 L1105.1,943.2 L1106.2,943.3 L1107.3,943.4 L1108.4,943.4 L1109.5,943.4 L1110.6,943.2 L1111.7,943.3 L1112.9,943.2 L1114.0,943.2 L1115.1,943.4 L1116.2,943.5 L1117.3,943.4 L1118.4,943.4 L1119.5,943.4 L1120.7,943.2 L1121.8,943.3 L1122.9,943.3 L1124.0,943.4 L1125.1,943.2 L1126.2,943.2 L1127.3,943.2 L1128.5,943.2 L1129.6,943.1 L1130.7,943.3 L1131.8,943.3 L1132.9,943.4 L1134.0,943.4 L1135.1,943.5 L1136.3,943.4 L1137.4,943.6 L1138.5,943.5 L1139.6,943.4 L1140.7,943.5 L1141.8,943.5 L1142.9,943.3 L1144.0,943.4 L1145.2,943.5 L1146.3,943.6 L1147.4,943.6 L1148.5,943.7 L1149.6,943.6 L1150.7,943.4 L1151.8,943.4 L1153.0,943.4 L1154.1,943.3 L1155.2,943.4 L1156.3,943.4 L1157.4,943.3 L1158.5,943.3 L1159.6,943.4 L1160.8,943.3 L1161.9,943.4 L1163.0,943.4 L1164.1,943.4 L1165.2,943.2 L1166.3,943.3 L1167.4,943.3 L1168.6,943.4 L1169.7,943.5 L1170.8,943.7 L1171.9,943.6 L1173.0,943.4 L1174.1,943.3 L1175.2,943.4 L1176.3,943.3 L1177.5,943.3 L1178.6,943.4 L1179.7,943.6 L1180.8,943.5 L1181.9,943.4 L1183.0,943.4 L1184.1,943.3 L1185.3,943.3 L1186.4,943.4 L1187.5,943.5 L1188.6,943.7 L1189.7,943.7 L1190.8,943.7 L1191.9,943.6 L1193.1,943.5 L1194.2,943.4 L1195.3,943.3 L1196.4,943.3 L1197.5,943.5 L1198.6,943.5 L1199.7,943.5 L1200.9,943.5 L1202.0,943.5 L1203.1,943.4 L1204.2,943.4 L1205.3,943.4 L1206.4,943.5 L1207.5,943.4 L1208.6,943.5 L1209.8,943.4 L1210.9,943.5 L1212.0,943.5 L1213.1,943.5 L1214.2,943.5 L1215.3,943.6 L1216.4,943.6 L1217.6,943.7 L1218.7,943.6 L1219.8,943.6 L1220.9,943.6 L1222.0,943.5 L1223.1,943.5 L1224.2,943.5 L1225.4,943.3 L1226.5,943.3 L1227.6,943.4 L1228.7,943.4 L1229.8,943.5 L1230.9,943.7 L1232.0,943.7 L1233.2,943.7 L1234.3,943.6 L1235.4,943.6 L1236.5,943.6 L1237.6,943.6 L1238.7,943.6 L1239.8,943.6 L1240.9,943.4 L1242.1,943.4 L1243.2,943.3 L1244.3,943.3 L1245.4,943.3 L1246.5,943.5 L1247.6,943.6 L1248.7,943.7 L1249.9,943.5 L1251.0,943.6 L1252.1,943.4 L1253.2,943.4 L1254.3,943.3 L1255.4,943.4 L1256.5,943.3 L1257.7,943.4 L1258.8,943.4 L1259.9,943.5 L1261.0,943.4 L1262.1,943.4 L1263.2,943.5 L1264.3,943.4 L1265.5,943.5 L1266.6,943.5 L1267.7,943.5 L1268.8,943.6 L1269.9,943.5 L1271.0,943.5 L1272.1,943.6 L1273.2,943.5 L1274.4,943.6 L1275.5,943.7 L1276.6,943.7 L1277.7,943.7 L1278.8,943.8 L1279.9,943.6 L1281.0,943.6 L1282.2,943.6 L1283.3,943.5 L1284.4,943.5 L1285.5,943.5 L1286.6,943.4 L1287.7,943.3 L1288.8,943.3 L1290.0,943.3 L1291.1,943.4 L1292.2,943.4 L1293.3,943.5 L1294.4,943.6 L1295.5,943.6 L1296.6,943.5 L1297.8,943.5 L1298.9,943.6 L1300.0,943.5 L1301.1,943.5 L1302.2,943.5 L1303.3,943.4 L1304.4,943.4 L1305.5,943.3 L1306.7,943.4 L1307.8,943.4 L1308.9,943.4 L1310.0,943.4 L1311.1,943.4 L1312.2,943.4 L1313.3,943.4 L1314.5,943.5 L1315.6,943.4 L1316.7,943.6 L1317.8,943.5 L1318.9,943.5 L1320.0,943.5 L1321.1,943.6 L1322.3,943.6 L1323.4,943.6 L1324.5,943.7 L1325.6,943.5 L1326.7,943.4 L1327.8,943.3 L1328.9,943.2 L1330.1,943.2 L1331.2,943.4 L1332.3,943.5 L1333.4,943.6 L1334.5,943.8 L1335.6,943.6 L1336.7,943.6 L1337.8,943.5 L1339.0,943.5 L1340.1,943.6 L1341.2,943.6 L1342.3,943.6 L1343.4,943.6 L1344.5,943.6 L1345.6,943.5 L1346.8,943.5 L1347.9,943.5 L1349.0,943.5 L1350.1,943.5 L1351.2,943.6 L1352.3,943.6 L1353.4,943.6 L1354.6,943.6 L1355.7,943.7 L1356.8,943.6 L1357.9,943.6 L1359.0,943.7 L1360.1,943.8 L1361.2,943.8 L1362.4,943.7 L1363.5,943.8 L1364.6,943.8 L1365.7,943.7 L1366.8,943.6 L1367.9,943.6 L1369.0,943.5 L1370.1,943.4 L1371.3,943.5 L1372.4,943.4 L1373.5,943.5 L1374.6,943.5 L1375.7,943.5 L1376.8,943.4 L1377.9,943.5 L1379.1,943.5 L1380.2,943.4 L1381.3,943.5 L1382.4,943.5 L1383.5,943.5 L1384.6,943.5 L1385.7,943.5 L1386.9,943.5 L1388.0,943.5 L1389.1,943.6 L1390.2,943.5 L1391.3,943.6 L1392.4,943.4 L1393.5,943.4 L1394.7,943.2 L1395.8,943.3 L1396.9,943.3 L1398.0,943.4 L1399.1,943.4 L1400.2,943.6 L1401.3,943.5 L1402.4,943.6 L1403.6,943.5 L1404.7,943.5 L1405.8,943.4 L1406.9,943.6 L1408.0,943.5 L1409.1,943.6 L1410.2,943.7 L1411.4,943.7 L1412.5,943.6 L1413.6,943.6 L1414.7,943.4 L1415.8,943.4 L1416.9,943.4 L1418.0,943.5 L1419.2,943.5 L1420.3,943.6 L1421.4,943.6 L1422.5,943.6 L1423.6,943.5 L1424.7,943.4 L1425.8,943.3 L1427.0,943.4 L1428.1,943.4 L1429.2,943.4 L1430.3,943.6 L1431.4,943.5 L1432.5,943.4 L1433.6,943.5 L1434.7,943.5 L1435.9,943.5 L1437.0,943.6 L1438.1,943.6 L1439.2,943.7 L1440.3,943.7 L1441.4,943.6 L1442.5,943.6 L1443.7,943.5 L1444.8,943.6 L1445.9,943.4 L1447.0,943.5 L1448.1,943.6 L1449.2,943.7 L1450.3,943.7 L1451.5,943.7 L1452.6,943.6 L1453.7,943.6 L1454.8,943.6 L1455.9,943.6 L1457.0,943.8 L1458.1,943.8 L1459.3,943.7 L1460.4,943.6 L1461.5,943.7 L1462.6,943.5 L1463.7,943.6 L1464.8,943.6 L1465.9,943.7 L1467.0,943.7 L1468.2,943.5 L1469.3,943.6 L1470.4,943.5 L1471.5,943.4 L1472.6,943.4 L1473.7,943.5 L1474.8,943.4 L1476.0,943.4 L1477.1,943.4 L1478.2,943.5 L1479.3,943.5 L1480.4,943.5 L1481.5,943.5 L1482.6,943.5 L1483.8,943.5 L1484.9,943.5 L1486.0,943.4 L1487.1,943.5 L1488.2,943.5 L1489.3,943.6 L1490.4,943.6 L1491.6,943.6 L1492.7,943.6 L1493.8,943.7 L1494.9,943.6 L1496.0,943.5 L1497.1,943.5 L1498.2,943.5 L1499.3,943.4 L1500.5,943.5 L1501.6,943.6 L1502.7,943.5 L1503.8,943.6 L1504.9,943.6 L1506.0,943.7 L1507.1,943.8 L1508.3,943.9 L1509.4,943.8 L1510.5,943.8 L1511.6,943.7 L1512.7,943.6 L1513.8,943.5 L1514.9,943.7 L1516.1,943.7 L1517.2,943.7 L1518.3,943.7 L1519.4,943.7 L1520.5,943.6 L1521.6,943.5 L1522.7,943.6 L1523.9,943.5 L1525.0,943.5 L1526.1,943.6 L1527.2,943.7 L1528.3,943.6 L1529.4,943.6 L1530.5,943.6 L1531.6,943.7 L1532.8,943.6 L1533.9,943.6 L1535.0,943.7 L1536.1,943.6 L1537.2,943.5 L1538.3,943.5 L1539.4,943.5 L1540.6,943.3 L1541.7,943.4 L1542.8,943.5 L1543.9,943.5 L1545.0,943.4 L1546.1,943.5 L1547.2,943.6 L1548.4,943.7 L1549.5,943.7 L1550.6,943.8 L1551.7,943.8 L1552.8,943.7 L1553.9,943.7 L1555.0,943.6 L1556.2,943.7 L1557.3,943.7 L1558.4,943.8 L1559.5,943.7 L1560.6,943.7 L1561.7,943.6 L1562.8,943.5 L1563.9,943.6 L1565.1,943.5 L1566.2,943.6 L1567.3,943.6 L1568.4,943.7 L1569.5,943.7 L1570.6,943.7 L1571.7,943.7 L1572.9,943.7 L1574.0,943.7 L1575.1,943.7 L1576.2,943.7 L1577.3,943.7 L1578.4,943.6 L1579.5,943.6 L1580.7,943.6 L1581.8,943.6 L1582.9,943.7 L1584.0,943.7 L1585.1,943.7 L1586.2,943.7 L1587.3,943.7 L1588.5,943.6 L1589.6,943.5 L1590.7,943.5 L1591.8,943.5 L1592.9,943.7 L1594.0,943.8 L1595.1,943.8 L1596.2,943.8 L1597.4,943.8 L1598.5,943.7 L1599.6,943.8 L1600.7,943.8 L1601.8,943.8 L1602.9,943.6 L1604.0,943.6 L1605.2,943.6 L1606.3,943.6 L1607.4,943.6 L1608.5,943.7 L1609.6,943.8 L1610.7,943.7 L1611.8,943.8 L1613.0,943.9 L1614.1,943.8 L1615.2,943.8 L1616.3,943.9 L1617.4,943.9 L1618.5,943.9 L1619.6,943.8 L1620.8,943.7 L1621.9,943.5 L1623.0,943.5 L1624.1,943.4 L1625.2,943.6 L1626.3,943.6 L1627.4,943.7 L1628.5,943.6 L1629.7,943.7 L1630.8,943.6 L1631.9,943.6 L1633.0,943.4 L1634.1,943.4 L1635.2,943.3 L1636.3,943.3 L1637.5,943.5 L1638.6,943.6 L1639.7,943.7 L1640.8,943.6 L1641.9,943.6 L1643.0,943.4 L1644.1,943.4 L1645.3,943.4 L1646.4,943.7 L1647.5,943.6 L1648.6,943.7 L1649.7,943.8 L1650.8,943.8 L1651.9,943.6 L1653.1,943.8 L1654.2,943.7 L1655.3,943.5 L1656.4,943.4 L1657.5,943.5 L1658.6,943.5 L1659.7,943.6 L1660.8,943.8 L1662.0,943.9 L1663.1,943.8 L1664.2,943.8 L1665.3,943.9 L1666.4,943.7 L1667.5,943.7 L1668.6,943.8 L1669.8,943.9 L1670.9,943.9 L1672.0,943.8 L1673.1,943.8 L1674.2,943.7 L1675.3,943.6 L1676.4,943.5 L1677.6,943.6 L1678.7,943.7 L1679.8,943.6 L1680.9,943.7 L1682.0,943.7 L1683.1,943.7 L1684.2,943.6 L1685.4,943.7 L1686.5,943.7 L1687.6,943.7 L1688.7,943.7 L1689.8,943.8 L1690.9,943.8 L1692.0,943.7 L1693.1,943.8 L1694.3,943.8 L1695.4,943.8 L1696.5,943.7 L1697.6,943.6 L1698.7,943.6 L1699.8,943.5 L1700.9,943.5 L1702.1,943.6 L1703.2,943.8 L1704.3,943.9 L1705.4,943.9 L1706.5,944.1 L1707.6,944.1 L1708.7,944.1 L1709.9,944.0 L1711.0,943.9 L1712.1,943.8 L1713.2,943.8 L1714.3,943.7 L1715.4,943.7 L1716.5,943.8 L1717.7,943.8 L1718.8,943.7 L1719.9,943.7 L1721.0,943.8 L1722.1,943.9 L1723.2,943.8 L1724.3,944.0 L1725.4,944.0 L1726.6,944.0 L1727.7,943.8 L1728.8,943.8 L1729.9,943.7 L1731.0,943.7 L1732.1,943.8 L1733.2,943.8 L1734.4,943.9 L1735.5,943.9 L1736.6,943.9 L1737.7,943.6 L1738.8,943.5 L1739.9,943.5 L1741.0,943.4 L1742.2,943.4 L1743.3,943.6 L1744.4,943.6 L1745.5,943.7 L1746.6,943.7 L1747.7,943.6 L1748.8,943.6 L1750.0,943.5 L1751.1,943.6 L1752.2,943.6 L1753.3,943.8 L1754.4,943.8 L1755.5,943.9 L1756.6,943.8 L1757.7,943.8 L1758.9,943.7 L1760.0,943.7 L1761.1,943.8 L1762.2,943.8 L1763.3,943.8 L1764.4,943.9 L1765.5,943.9 L1766.7,943.8 L1767.8,943.8 L1768.9,943.8 L1770.0,943.8" stroke="#A50000" stroke-width="12.8"/>
<path d="M211.8,1182.0 L212.9,1182.0 L214.0,1182.0 L215.1,1181.9 L216.3,1181.9 L217.4,1181.9 L218.5,1181.9 L219.6,1181.9 L220.7,1182.0 L221.8,1182.0 L222.9,1182.0 L224.1,1182.0 L225.2,1182.0 L226.3,1182.0 L227.4,1182.0 L228.5,1182.0 L229.6,1182.1 L230.7,1182.1 L231.8,1182.0 L233.0,1182.1 L234.1,1182.0 L235.2,1181.9 L236.3,1182.0 L237.4,1182.1 L238.5,1182.2 L239.6,1182.1 L240.8,1182.3 L241.9,1182.1 L243.0,1182.0 L244.1,1182.0 L245.2,1182.0 L246.3,1181.8 L247.4,1181.8 L248.6,1181.9 L249.7,1182.0 L250.8,1182.0 L251.9,1182.1 L253.0,1182.2 L254.1,1182.1 L255.2,1182.1 L256.4,1182.0 L257.5,1182.0 L258.6,1181.9 L259.7,1182.0 L260.8,1182.0 L261.9,1182.1 L263.0,1182.1 L264.1,1182.2 L265.3,1182.2 L266.4,1182.1 L267.5,1182.0 L268.6,1182.0 L269.7,1181.9 L270.8,1181.9 L271.9,1181.9 L273.1,1182.0 L274.2,1182.0 L275.3,1182.0 L276.4,1182.2 L277.5,1182.3 L278.6,1182.2 L279.7,1182.2 L280.9,1182.2 L282.0,1182.0 L283.1,1182.0 L284.2,1182.0 L285.3,1182.1 L286.4,1182.1 L287.5,1182.2 L288.7,1182.2 L289.8,1182.3 L290.9,1182.3 L292.0,1182.2 L293.1,1182.2 L294.2,1182.1 L295.3,1182.1 L296.4,1182.1 L297.6,1182.1 L298.7,1182.0 L299.8,1182.0 L300.9,1181.9 L302.0,1181.8 L303.1,1181.8 L304.2,1181.9 L305.4,1181.9 L306.5,1182.0 L307.6,1182.0 L308.7,1182.1 L309.8,1182.0 L310.9,1182.0 L312.0,1182.1 L313.2,1182.1 L314.3,1182.1 L315.4,1182.1 L316.5,1182.1 L317.6,1182.1 L318.7,1182.1 L319.8,1182.0 L321.0,1182.0 L322.1,1182.1 L323.2,1182.1 L324.3,1182.2 L325.4,1182.2 L326.5,1182.2 L327.6,1182.2 L328.7,1182.1 L329.9,1182.1 L331.0,1182.0 L332.1,1182.2 L333.2,1182.2 L334.3,1182.1 L335.4,1182.1 L336.5,1182.0 L337.7,1182.0 L338.8,1182.0 L339.9,1182.1 L341.0,1182.1 L342.1,1182.2 L343.2,1182.2 L344.3,1182.2 L345.5,1182.2 L346.6,1182.1 L347.7,1182.2 L348.8,1182.2 L349.9,1182.1 L351.0,1182.2 L352.1,1182.2 L353.3,1182.1 L354.4,1182.1 L355.5,1182.0 L356.6,1181.9 L357.7,1181.9 L358.8,1182.1 L359.9,1182.0 L361.0,1182.1 L362.2,1182.2 L363.3,1182.2 L364.4,1182.1 L365.5,1182.0 L366.6,1182.0 L367.7,1181.9 L368.8,1181.9 L370.0,1181.9 L371.1,1182.0 L372.2,1182.0 L373.3,1182.1 L374.4,1182.2 L375.5,1182.3 L376.6,1182.3 L377.8,1182.3 L378.9,1182.2 L380.0,1182.2 L381.1,1182.2 L382.2,1182.2 L383.3,1182.2 L384.4,1182.2 L385.6,1182.2 L386.7,1182.1 L387.8,1182.1 L388.9,1182.1 L390.0,1182.1 L391.1,1182.0 L392.2,1182.0 L393.3,1182.0 L394.5,1182.0 L395.6,1182.0 L396.7,1182.0 L397.8,1181.9 L398.9,1182.0 L400.0,1182.0 L401.1,1182.2 L402.3,1182.2 L403.4,1182.4 L404.5,1182.4 L405.6,1182.5 L406.7,1182.4 L407.8,1182.3 L408.9,1182.1 L410.1,1182.2 L411.2,1182.1 L412.3,1182.1 L413.4,1182.1 L414.5,1182.1 L415.6,1182.1 L416.7,1182.0 L417.9,1182.0 L419.0,1182.1 L420.1,1182.0 L421.2,1182.0 L422.3,1182.0 L423.4,1182.1 L424.5,1182.0 L425.6,1182.1 L426.8,1182.2 L427.9,1182.2 L429.0,1182.1 L430.1,1182.1 L431.2,1182.1 L432.3,1182.1 L433.4,1182.1 L434.6,1182.0 L435.7,1182.0 L436.8,1181.8 L437.9,1181.6 L439.0,1181.2 L440.1,1180.9 L441.2,1180.4 L442.4,1180.0 L443.5,1178.6 L444.6,1175.9 L445.7,1170.6 L446.8,1161.3 L447.9,1146.6 L449.0,1126.6 L450.2,1105.8 L451.3,1089.1 L452.4,1069.8 L453.5,1048.3 L454.6,1023.8 L455.7,997.0 L456.8,990.8 L457.9,994.5 L459.1,1014.7 L460.2,1041.8 L461.3,1063.8 L462.4,1084.2 L463.5,1100.9 L464.6,1120.7 L465.7,1141.4 L466.9,1157.7 L468.0,1168.5 L469.1,1175.1 L470.2,1178.0 L471.3,1179.9 L472.4,1180.5 L473.5,1180.8 L474.7,1181.0 L475.8,1181.4 L476.9,1181.7 L478.0,1181.9 L479.1,1182.1 L480.2,1182.2 L481.3,1182.3 L482.5,1182.2 L483.6,1182.2 L484.7,1182.2 L485.8,1182.1 L486.9,1182.0 L488.0,1182.1 L489.1,1182.2 L490.2,1182.2 L491.4,1182.2 L492.5,1182.2 L493.6,1182.2 L494.7,1182.1 L495.8,1182.1 L496.9,1182.2 L498.0,1182.2 L499.2,1182.2 L500.3,1182.2 L501.4,1182.2 L502.5,1182.2 L503.6,1182.2 L504.7,1182.3 L505.8,1182.2 L507.0,1182.2 L508.1,1182.2 L509.2,1182.3 L510.3,1182.3 L511.4,1182.2 L512.5,1182.2 L513.6,1182.2 L514.8,1182.2 L515.9,1182.1 L517.0,1182.3 L518.1,1182.2 L519.2,1182.2 L520.3,1182.2 L521.4,1182.3 L522.5,1182.2 L523.7,1182.2 L524.8,1182.2 L525.9,1182.2 L527.0,1182.1 L528.1,1182.3 L529.2,1182.3 L530.3,1182.1 L531.5,1182.3 L532.6,1182.4 L533.7,1182.3 L534.8,1182.4 L535.9,1182.6 L537.0,1182.5 L538.1,1182.4 L539.3,1182.4 L540.4,1182.3 L541.5,1182.3 L542.6,1182.3 L543.7,1182.4 L544.8,1182.4 L545.9,1182.4 L547.1,1182.4 L548.2,1182.4 L549.3,1182.3 L550.4,1182.4 L551.5,1182.5 L552.6,1182.5 L553.7,1182.4 L554.8,1182.4 L556.0,1182.3 L557.1,1182.3 L558.2,1182.2 L559.3,1182.2 L560.4,1182.2 L561.5,1182.2 L562.6,1182.1 L563.8,1182.3 L564.9,1182.4 L566.0,1182.4 L567.1,1182.5 L568.2,1182.5 L569.3,1182.4 L570.4,1182.4 L571.6,1182.4 L572.7,1182.3 L573.8,1182.2 L574.9,1182.2 L576.0,1182.2 L577.1,1182.2 L578.2,1182.3 L579.4,1182.2 L580.5,1182.2 L581.6,1182.2 L582.7,1182.2 L583.8,1182.1 L584.9,1182.2 L586.0,1182.2 L587.1,1182.3 L588.3,1182.2 L589.4,1182.3 L590.5,1182.3 L591.6,1182.3 L592.7,1182.2 L593.8,1182.3 L594.9,1182.4 L596.1,1182.4 L597.2,1182.3 L598.3,1182.3 L599.4,1182.3 L600.5,1182.2 L601.6,1182.2 L602.7,1182.2 L603.9,1182.2 L605.0,1182.2 L606.1,1182.2 L607.2,1182.2 L608.3,1182.3 L609.4,1182.2 L610.5,1182.2 L611.7,1182.3 L612.8,1182.2 L613.9,1182.2 L615.0,1182.2 L616.1,1182.4 L617.2,1182.3 L618.3,1182.2 L619.4,1182.3 L620.6,1182.3 L621.7,1182.2 L622.8,1182.3 L623.9,1182.4 L625.0,1182.4 L626.1,1182.3 L627.2,1182.4 L628.4,1182.4 L629.5,1182.4 L630.6,1182.4 L631.7,1182.4 L632.8,1182.3 L633.9,1182.3 L635.0,1182.2 L636.2,1182.1 L637.3,1182.1 L638.4,1182.2 L639.5,1182.2 L640.6,1182.1 L641.7,1182.1 L642.8,1182.1 L644.0,1182.0 L645.1,1181.9 L646.2,1182.1 L647.3,1182.1 L648.4,1182.2 L649.5,1182.2 L650.6,1182.3 L651.7,1182.4 L652.9,1182.4 L654.0,1182.3 L655.1,1182.3 L656.2,1182.4 L657.3,1182.4 L658.4,1182.4 L659.5,1182.4 L660.7,1182.3 L661.8,1182.3 L662.9,1182.3 L664.0,1182.3 L665.1,1182.3 L666.2,1182.2 L667.3,1182.2 L668.5,1182.2 L669.6,1182.2 L670.7,1182.3 L671.8,1182.4 L672.9,1182.4 L674.0,1182.4 L675.1,1182.4 L676.3,1182.3 L677.4,1182.3 L678.5,1182.4 L679.6,1182.4 L680.7,1182.3 L681.8,1182.3 L682.9,1182.3 L684.0,1182.3 L685.2,1182.2 L686.3,1182.2 L687.4,1182.2 L688.5,1182.3 L689.6,1182.2 L690.7,1182.3 L691.8,1182.3 L693.0,1182.3 L694.1,1182.2 L695.2,1182.3 L696.3,1182.3 L697.4,1182.3 L698.5,1182.3 L699.6,1182.3 L700.8,1182.4 L701.9,1182.3 L703.0,1182.3 L704.1,1182.3 L705.2,1182.3 L706.3,1182.3 L707.4,1182.5 L708.6,1182.4 L709.7,1182.4 L710.8,1182.4 L711.9,1182.3 L713.0,1182.2 L714.1,1182.3 L715.2,1182.2 L716.3,1182.4 L717.5,1182.4 L718.6,1182.5 L719.7,1182.4 L720.8,1182.5 L721.9,1182.3 L723.0,1182.4 L724.1,1182.4 L725.3,1182.5 L726.4,1182.5 L727.5,1182.6 L728.6,1182.6 L729.7,1182.5 L730.8,1182.5 L731.9,1182.4 L733.1,1182.3 L734.2,1182.3 L735.3,1182.3 L736.4,1182.2 L737.5,1182.3 L738.6,1182.3 L739.7,1182.3 L740.9,1182.3 L742.0,1182.4 L743.1,1182.3 L744.2,1182.3 L745.3,1182.3 L746.4,1182.3 L747.5,1182.2 L748.6,1182.2 L749.8,1182.3 L750.9,1182.4 L752.0,1182.3 L753.1,1182.3 L754.2,1182.3 L755.3,1182.4 L756.4,1182.3 L757.6,1182.3 L758.7,1182.3 L759.8,1182.3 L760.9,1182.3 L762.0,1182.3 L763.1,1182.3 L764.2,1182.4 L765.4,1182.3 L766.5,1182.3 L767.6,1182.3 L768.7,1182.4 L769.8,1182.4 L770.9,1182.4 L772.0,1182.4 L773.2,1182.4 L774.3,1182.3 L775.4,1182.2 L776.5,1182.3 L777.6,1182.3 L778.7,1182.4 L779.8,1182.4 L780.9,1182.5 L782.1,1182.5 L783.2,1182.5 L784.3,1182.6 L785.4,1182.5 L786.5,1182.4 L787.6,1182.5 L788.7,1182.5 L789.9,1182.3 L791.0,1182.4 L792.1,1182.5 L793.2,1182.5 L794.3,1182.5 L795.4,1182.5 L796.5,1182.4 L797.7,1182.3 L798.8,1182.2 L799.9,1182.2 L801.0,1182.1 L802.1,1182.1 L803.2,1182.1 L804.3,1181.9 L805.5,1181.5 L806.6,1180.8 L807.7,1179.8 L808.8,1178.6 L809.9,1177.3 L811.0,1176.4 L812.1,1176.0 L813.2,1176.2 L814.4,1177.0 L815.5,1178.3 L816.6,1179.4 L817.7,1180.5 L818.8,1181.3 L819.9,1181.9 L821.0,1182.1 L822.2,1182.2 L823.3,1182.3 L824.4,1182.3 L825.5,1182.3 L826.6,1182.4 L827.7,1182.3 L828.8,1182.4 L830.0,1182.5 L831.1,1182.5 L832.2,1182.5 L833.3,1182.5 L834.4,1182.5 L835.5,1182.4 L836.6,1182.5 L837.8,1182.4 L838.9,1182.5 L840.0,1182.4 L841.1,1182.5 L842.2,1182.5 L843.3,1182.5 L844.4,1182.5 L845.5,1182.5 L846.7,1182.4 L847.8,1182.4 L848.9,1182.6 L850.0,1182.5 L851.1,1182.5 L852.2,1182.5 L853.3,1182.6 L854.5,1182.5 L855.6,1182.4 L856.7,1182.4 L857.8,1182.3 L858.9,1182.3 L860.0,1182.2 L861.1,1182.3 L862.3,1182.4 L863.4,1182.5 L864.5,1182.4 L865.6,1182.4 L866.7,1182.4 L867.8,1182.5 L868.9,1182.3 L870.1,1182.3 L871.2,1182.4 L872.3,1182.4 L873.4,1182.4 L874.5,1182.4 L875.6,1182.4 L876.7,1182.3 L877.8,1182.3 L879.0,1182.3 L880.1,1182.3 L881.2,1182.4 L882.3,1182.5 L883.4,1182.5 L884.5,1182.4 L885.6,1182.5 L886.8,1182.3 L887.9,1182.3 L889.0,1182.3 L890.1,1182.2 L891.2,1182.2 L892.3,1182.1 L893.4,1182.0 L894.6,1181.8 L895.7,1181.7 L896.8,1181.6 L897.9,1181.4 L899.0,1181.3 L900.1,1181.2 L901.2,1181.0 L902.4,1180.8 L903.5,1180.7 L904.6,1180.4 L905.7,1180.2 L906.8,1180.0 L907.9,1179.8 L909.0,1179.8 L910.1,1179.8 L911.3,1179.8 L912.4,1179.9 L913.5,1180.0 L914.6,1180.2 L915.7,1180.3 L916.8,1180.5 L917.9,1180.8 L919.1,1181.0 L920.2,1181.2 L921.3,1181.4 L922.4,1181.6 L923.5,1181.7 L924.6,1182.0 L925.7,1182.1 L926.9,1182.2 L928.0,1182.2 L929.1,1182.3 L930.2,1182.2 L931.3,1182.3 L932.4,1182.3 L933.5,1182.5 L934.7,1182.5 L935.8,1182.4 L936.9,1182.4 L938.0,1182.4 L939.1,1182.3 L940.2,1182.3 L941.3,1182.3 L942.4,1182.3 L943.6,1182.4 L944.7,1182.5 L945.8,1182.4 L946.9,1182.5 L948.0,1182.4 L949.1,1182.5 L950.2,1182.5 L951.4,1182.5 L952.5,1182.6 L953.6,1182.7 L954.7,1182.6 L955.8,1182.6 L956.9,1182.6 L958.0,1182.6 L959.2,1182.6 L960.3,1182.6 L961.4,1182.5 L962.5,1182.5 L963.6,1182.4 L964.7,1182.4 L965.8,1182.5 L967.0,1182.6 L968.1,1182.6 L969.2,1182.6 L970.3,1182.5 L971.4,1182.4 L972.5,1182.4 L973.6,1182.3 L974.7,1182.4 L975.9,1182.5 L977.0,1182.4 L978.1,1182.3 L979.2,1182.4 L980.3,1182.3 L981.4,1182.1 L982.5,1182.1 L983.7,1182.3 L984.8,1182.3 L985.9,1182.4 L987.0,1182.6 L988.1,1182.8 L989.2,1182.9 L990.3,1182.7 L991.5,1182.7 L992.6,1182.6 L993.7,1182.5 L994.8,1182.4 L995.9,1182.5 L997.0,1182.6 L998.1,1182.6 L999.3,1182.6 L1000.4,1182.6 L1001.5,1182.5 L1002.6,1182.4 L1003.7,1182.5 L1004.8,1182.4 L1005.9,1182.6 L1007.1,1182.6 L1008.2,1182.5 L1009.3,1182.6 L1010.4,1182.5 L1011.5,1182.5 L1012.6,1182.6 L1013.7,1182.6 L1014.8,1182.6 L1016.0,1182.7 L1017.1,1182.7 L1018.2,1182.7 L1019.3,1182.7 L1020.4,1182.6 L1021.5,1182.6 L1022.6,1182.5 L1023.8,1182.5 L1024.9,1182.6 L1026.0,1182.6 L1027.1,1182.6 L1028.2,1182.7 L1029.3,1182.6 L1030.4,1182.6 L1031.6,1182.5 L1032.7,1182.5 L1033.8,1182.4 L1034.9,1182.5 L1036.0,1182.6 L1037.1,1182.6 L1038.2,1182.6 L1039.4,1182.6 L1040.5,1182.5 L1041.6,1182.5 L1042.7,1182.6 L1043.8,1182.6 L1044.9,1182.5 L1046.0,1182.5 L1047.1,1182.5 L1048.3,1182.6 L1049.4,1182.5 L1050.5,1182.6 L1051.6,1182.5 L1052.7,1182.5 L1053.8,1182.5 L1054.9,1182.4 L1056.1,1182.4 L1057.2,1182.5 L1058.3,1182.4 L1059.4,1182.4 L1060.5,1182.4 L1061.6,1182.4 L1062.7,1182.4 L1063.9,1182.5 L1065.0,1182.5 L1066.1,1182.5 L1067.2,1182.5 L1068.3,1182.6 L1069.4,1182.5 L1070.5,1182.5 L1071.7,1182.5 L1072.8,1182.6 L1073.9,1182.5 L1075.0,1182.5 L1076.1,1182.6 L1077.2,1182.5 L1078.3,1182.5 L1079.4,1182.5 L1080.6,1182.6 L1081.7,1182.5 L1082.8,1182.5 L1083.9,1182.5 L1085.0,1182.5 L1086.1,1182.4 L1087.2,1182.4 L1088.4,1182.5 L1089.5,1182.4 L1090.6,1182.5 L1091.7,1182.6 L1092.8,1182.6 L1093.9,1182.7 L1095.0,1182.7 L1096.2,1182.7 L1097.3,1182.6 L1098.4,1182.6 L1099.5,1182.6 L1100.6,1182.6 L1101.7,1182.6 L1102.8,1182.7 L1104.0,1182.6 L1105.1,1182.5 L1106.2,1182.5 L1107.3,1182.5 L1108.4,1182.6 L1109.5,1182.7 L1110.6,1182.7 L1111.7,1182.6 L1112.9,1182.6 L1114.0,1182.5 L1115.1,1182.5 L1116.2,1182.5 L1117.3,1182.5 L1118.4,1182.5 L1119.5,1182.5 L1120.7,1182.5 L1121.8,1182.5 L1122.9,1182.5 L1124.0,1182.5 L1125.1,1182.6 L1126.2,1182.5 L1127.3,1182.5 L1128.5,1182.6 L1129.6,1182.7 L1130.7,1182.7 L1131.8,1182.8 L1132.9,1182.8 L1134.0,1182.7 L1135.1,1182.7 L1136.3,1182.8 L1137.4,1182.8 L1138.5,1182.8 L1139.6,1182.8 L1140.7,1182.7 L1141.8,1182.7 L1142.9,1182.7 L1144.0,1182.7 L1145.2,1182.6 L1146.3,1182.7 L1147.4,1182.6 L1148.5,1182.4 L1149.6,1182.4 L1150.7,1182.4 L1151.8,1182.4 L1153.0,1182.4 L1154.1,1182.5 L1155.2,1182.5 L1156.3,1182.4 L1157.4,1182.4 L1158.5,1182.4 L1159.6,1182.3 L1160.8,1182.3 L1161.9,1182.2 L1163.0,1181.9 L1164.1,1181.5 L1165.2,1181.1 L1166.3,1180.4 L1167.4,1179.7 L1168.6,1179.1 L1169.7,1178.6 L1170.8,1178.5 L1171.9,1178.7 L1173.0,1179.1 L1174.1,1179.7 L1175.2,1180.4 L1176.3,1181.1 L1177.5,1181.7 L1178.6,1182.1 L1179.7,1182.3 L1180.8,1182.5 L1181.9,1182.4 L1183.0,1182.4 L1184.1,1182.4 L1185.3,1182.5 L1186.4,1182.5 L1187.5,1182.7 L1188.6,1182.7 L1189.7,1182.8 L1190.8,1182.7 L1191.9,1182.7 L1193.1,1182.7 L1194.2,1182.6 L1195.3,1182.5 L1196.4,1182.5 L1197.5,1182.6 L1198.6,1182.5 L1199.7,1182.6 L1200.9,1182.8 L1202.0,1182.8 L1203.1,1182.7 L1204.2,1182.7 L1205.3,1182.6 L1206.4,1182.6 L1207.5,1182.7 L1208.6,1182.7 L1209.8,1182.8 L1210.9,1182.8 L1212.0,1182.8 L1213.1,1182.7 L1214.2,1182.8 L1215.3,1182.8 L1216.4,1182.8 L1217.6,1182.8 L1218.7,1182.7 L1219.8,1182.6 L1220.9,1182.5 L1222.0,1182.5 L1223.1,1182.5 L1224.2,1182.6 L1225.4,1182.7 L1226.5,1182.7 L1227.6,1182.8 L1228.7,1182.7 L1229.8,1182.8 L1230.9,1182.8 L1232.0,1182.8 L1233.2,1182.7 L1234.3,1182.7 L1235.4,1182.7 L1236.5,1182.7 L1237.6,1182.7 L1238.7,1182.7 L1239.8,1182.7 L1240.9,1182.7 L1242.1,1182.7 L1243.2,1182.8 L1244.3,1182.8 L1245.4,1182.8 L1246.5,1182.8 L1247.6,1182.8 L1248.7,1182.7 L1249.9,1182.6 L1251.0,1182.5 L1252.1,1182.4 L1253.2,1182.5 L1254.3,1182.6 L1255.4,1182.6 L1256.5,1182.6 L1257.7,1182.7 L1258.8,1182.7 L1259.9,1182.7 L1261.0,1182.7 L1262.1,1182.6 L1263.2,1182.6 L1264.3,1182.6 L1265.5,1182.6 L1266.6,1182.6 L1267.7,1182.7 L1268.8,1182.7 L1269.9,1182.7 L1271.0,1182.6 L1272.1,1182.5 L1273.2,1182.5 L1274.4,1182.5 L1275.5,1182.5 L1276.6,1182.6 L1277.7,1182.7 L1278.8,1182.7 L1279.9,1182.6 L1281.0,1182.7 L1282.2,1182.6 L1283.3,1182.6 L1284.4,1182.6 L1285.5,1182.6 L1286.6,1182.6 L1287.7,1182.7 L1288.8,1182.6 L1290.0,1182.7 L1291.1,1182.7 L1292.2,1182.7 L1293.3,1182.7 L1294.4,1182.7 L1295.5,1182.7 L1296.6,1182.6 L1297.8,1182.7 L1298.9,1182.6 L1300.0,1182.6 L1301.1,1182.7 L1302.2,1182.7 L1303.3,1182.7 L1304.4,1182.7 L1305.5,1182.7 L1306.7,1182.5 L1307.8,1182.6 L1308.9,1182.6 L1310.0,1182.6 L1311.1,1182.5 L1312.2,1182.8 L1313.3,1182.8 L1314.5,1182.8 L1315.6,1182.7 L1316.7,1182.7 L1317.8,1182.6 L1318.9,1182.7 L1320.0,1182.6 L1321.1,1182.7 L1322.3,1182.7 L1323.4,1182.7 L1324.5,1182.5 L1325.6,1182.5 L1326.7,1182.4 L1327.8,1182.5 L1328.9,1182.6 L1330.1,1182.7 L1331.2,1182.7 L1332.3,1182.8 L1333.4,1182.7 L1334.5,1182.6 L1335.6,1182.6 L1336.7,1182.7 L1337.8,1182.7 L1339.0,1182.7 L1340.1,1182.7 L1341.2,1182.7 L1342.3,1182.7 L1343.4,1182.7 L1344.5,1182.6 L1345.6,1182.6 L1346.8,1182.6 L1347.9,1182.7 L1349.0,1182.5 L1350.1,1182.5 L1351.2,1182.6 L1352.3,1182.8 L1353.4,1182.8 L1354.6,1183.0 L1355.7,1183.0 L1356.8,1182.8 L1357.9,1182.8 L1359.0,1182.7 L1360.1,1182.8 L1361.2,1182.9 L1362.4,1182.9 L1363.5,1182.8 L1364.6,1182.8 L1365.7,1182.8 L1366.8,1182.7 L1367.9,1182.7 L1369.0,1182.7 L1370.1,1182.8 L1371.3,1182.8 L1372.4,1182.8 L1373.5,1182.7 L1374.6,1182.8 L1375.7,1182.9 L1376.8,1182.8 L1377.9,1182.9 L1379.1,1182.9 L1380.2,1182.9 L1381.3,1182.7 L1382.4,1182.7 L1383.5,1182.6 L1384.6,1182.8 L1385.7,1182.8 L1386.9,1182.9 L1388.0,1182.8 L1389.1,1182.9 L1390.2,1182.8 L1391.3,1182.6 L1392.4,1182.6 L1393.5,1182.6 L1394.7,1182.5 L1395.8,1182.6 L1396.9,1182.6 L1398.0,1182.7 L1399.1,1182.8 L1400.2,1182.8 L1401.3,1182.8 L1402.4,1182.7 L1403.6,1182.7 L1404.7,1182.6 L1405.8,1182.6 L1406.9,1182.6 L1408.0,1182.7 L1409.1,1182.7 L1410.2,1182.6 L1411.4,1182.6 L1412.5,1182.6 L1413.6,1182.6 L1414.7,1182.7 L1415.8,1182.7 L1416.9,1182.8 L1418.0,1182.8 L1419.2,1182.8 L1420.3,1182.8 L1421.4,1182.8 L1422.5,1182.7 L1423.6,1182.7 L1424.7,1182.8 L1425.8,1182.8 L1427.0,1182.7 L1428.1,1182.8 L1429.2,1182.8 L1430.3,1182.7 L1431.4,1182.6 L1432.5,1182.7 L1433.6,1182.7 L1434.7,1182.6 L1435.9,1182.7 L1437.0,1182.7 L1438.1,1182.7 L1439.2,1182.7 L1440.3,1182.8 L1441.4,1182.7 L1442.5,1182.8 L1443.7,1182.8 L1444.8,1182.8 L1445.9,1182.9 L1447.0,1182.9 L1448.1,1182.9 L1449.2,1182.9 L1450.3,1182.9 L1451.5,1182.8 L1452.6,1182.9 L1453.7,1182.9 L1454.8,1183.0 L1455.9,1183.0 L1457.0,1183.0 L1458.1,1183.0 L1459.3,1182.9 L1460.4,1182.9 L1461.5,1182.8 L1462.6,1183.0 L1463.7,1183.0 L1464.8,1183.0 L1465.9,1183.1 L1467.0,1183.1 L1468.2,1182.9 L1469.3,1182.9 L1470.4,1182.9 L1471.5,1182.9 L1472.6,1183.0 L1473.7,1183.0 L1474.8,1183.0 L1476.0,1182.9 L1477.1,1182.9 L1478.2,1182.8 L1479.3,1182.7 L1480.4,1182.7 L1481.5,1182.8 L1482.6,1182.7 L1483.8,1182.8 L1484.9,1182.7 L1486.0,1182.6 L1487.1,1182.7 L1488.2,1182.7 L1489.3,1182.6 L1490.4,1182.7 L1491.6,1182.9 L1492.7,1182.8 L1493.8,1182.8 L1494.9,1182.9 L1496.0,1182.9 L1497.1,1182.8 L1498.2,1182.8 L1499.3,1182.8 L1500.5,1182.8 L1501.6,1182.6 L1502.7,1182.6 L1503.8,1182.6 L1504.9,1182.6 L1506.0,1182.7 L1507.1,1182.8 L1508.3,1183.0 L1509.4,1183.1 L1510.5,1183.1 L1511.6,1183.0 L1512.7,1183.0 L1513.8,1182.9 L1514.9,1182.7 L1516.1,1182.7 L1517.2,1182.7 L1518.3,1182.6 L1519.4,1182.5 L1520.5,1182.5 L1521.6,1182.4 L1522.7,1182.0 L1523.9,1181.7 L1525.0,1181.1 L1526.1,1180.6 L1527.2,1180.0 L1528.3,1179.7 L1529.4,1179.3 L1530.5,1179.1 L1531.6,1179.0 L1532.8,1179.1 L1533.9,1179.2 L1535.0,1179.6 L1536.1,1180.2 L1537.2,1180.6 L1538.3,1181.1 L1539.4,1181.5 L1540.6,1181.9 L1541.7,1182.2 L1542.8,1182.5 L1543.9,1182.7 L1545.0,1182.9 L1546.1,1182.8 L1547.2,1182.9 L1548.4,1182.8 L1549.5,1182.6 L1550.6,1182.6 L1551.7,1182.6 L1552.8,1182.7 L1553.9,1182.8 L1555.0,1183.0 L1556.2,1183.0 L1557.3,1183.1 L1558.4,1183.0 L1559.5,1183.0 L1560.6,1182.9 L1561.7,1182.9 L1562.8,1182.9 L1563.9,1182.9 L1565.1,1183.0 L1566.2,1183.0 L1567.3,1183.0 L1568.4,1182.9 L1569.5,1182.9 L1570.6,1182.8 L1571.7,1182.8 L1572.9,1182.7 L1574.0,1182.8 L1575.1,1182.9 L1576.2,1182.9 L1577.3,1182.9 L1578.4,1182.9 L1579.5,1183.0 L1580.7,1182.9 L1581.8,1182.9 L1582.9,1183.0 L1584.0,1183.0 L1585.1,1183.0 L1586.2,1183.0 L1587.3,1182.9 L1588.5,1182.9 L1589.6,1182.9 L1590.7,1183.0 L1591.8,1182.8 L1592.9,1182.8 L1594.0,1182.7 L1595.1,1182.6 L1596.2,1182.7 L1597.4,1182.8 L1598.5,1182.9 L1599.6,1182.8 L1600.7,1182.9 L1601.8,1182.9 L1602.9,1182.8 L1604.0,1182.8 L1605.2,1182.9 L1606.3,1183.0 L1607.4,1183.0 L1608.5,1183.1 L1609.6,1183.1 L1610.7,1183.0 L1611.8,1183.0 L1613.0,1182.9 L1614.1,1183.0 L1615.2,1182.9 L1616.3,1182.9 L1617.4,1182.7 L1618.5,1182.8 L1619.6,1182.9 L1620.8,1182.9 L1621.9,1182.8 L1623.0,1182.9 L1624.1,1182.8 L1625.2,1182.7 L1626.3,1182.7 L1627.4,1182.6 L1628.5,1182.6 L1629.7,1182.6 L1630.8,1182.6 L1631.9,1182.8 L1633.0,1182.9 L1634.1,1183.0 L1635.2,1183.0 L1636.3,1183.1 L1637.5,1183.0 L1638.6,1183.0 L1639.7,1183.0 L1640.8,1183.1 L1641.9,1182.9 L1643.0,1182.9 L1644.1,1182.9 L1645.3,1182.9 L1646.4,1182.8 L1647.5,1182.9 L1648.6,1183.0 L1649.7,1182.9 L1650.8,1183.0 L1651.9,1182.9 L1653.1,1182.9 L1654.2,1182.9 L1655.3,1182.9 L1656.4,1182.9 L1657.5,1183.1 L1658.6,1183.1 L1659.7,1183.0 L1660.8,1183.1 L1662.0,1183.0 L1663.1,1182.9 L1664.2,1182.9 L1665.3,1182.9 L1666.4,1182.8 L1667.5,1182.8 L1668.6,1182.8 L1669.8,1182.7 L1670.9,1182.6 L1672.0,1182.7 L1673.1,1182.7 L1674.2,1182.6 L1675.3,1182.8 L1676.4,1182.7 L1677.6,1182.6 L1678.7,1182.6 L1679.8,1182.5 L1680.9,1182.3 L1682.0,1182.3 L1683.1,1182.1 L1684.2,1182.0 L1685.4,1181.9 L1686.5,1181.9 L1687.6,1181.8 L1688.7,1181.8 L1689.8,1181.7 L1690.9,1181.8 L1692.0,1181.6 L1693.1,1181.5 L1694.3,1181.5 L1695.4,1181.5 L1696.5,1181.6 L1697.6,1181.7 L1698.7,1181.9 L1699.8,1182.0 L1700.9,1182.2 L1702.1,1182.2 L1703.2,1182.3 L1704.3,1182.5 L1705.4,1182.6 L1706.5,1182.6 L1707.6,1182.7 L1708.7,1182.6 L1709.9,1182.6 L1711.0,1182.7 L1712.1,1182.7 L1713.2,1182.6 L1714.3,1182.6 L1715.4,1182.7 L1716.5,1182.7 L1717.7,1182.8 L1718.8,1183.0 L1719.9,1183.1 L1721.0,1183.1 L1722.1,1183.0 L1723.2,1183.0 L1724.3,1182.8 L1725.4,1182.8 L1726.6,1182.9 L1727.7,1182.8 L1728.8,1182.9 L1729.9,1183.0 L1731.0,1183.0 L1732.1,1183.0 L1733.2,1183.1 L1734.4,1183.0 L1735.5,1183.0 L1736.6,1183.1 L1737.7,1183.0 L1738.8,1183.0 L1739.9,1183.1 L1741.0,1183.1 L1742.2,1183.1 L1743.3,1183.2 L1744.4,1183.0 L1745.5,1183.0 L1746.6,1182.9 L1747.7,1182.9 L1748.8,1182.9 L1750.0,1182.9 L1751.1,1182.9 L1752.2,1183.0 L1753.3,1183.0 L1754.4,1183.0 L1755.5,1183.1 L1756.6,1183.1 L1757.7,1183.0 L1758.9,1183.0 L1760.0,1183.0 L1761.1,1183.0 L1762.2,1183.0 L1763.3,1183.0 L1764.4,1182.9 L1765.5,1182.9 L1766.7,1182.9 L1767.8,1183.0 L1768.9,1183.0 L1770.0,1183.0" stroke="#4E0000" stroke-width="12.8"/>
</g>
<text class="tk" x="378.8" y="1368">5</text>
<text class="tk" x="657.0" y="1368">10</text>
<text class="tk" x="935.2" y="1368">15</text>
<text class="tk" x="1213.5" y="1368">20</text>
<text class="tk" x="1491.8" y="1368">25</text>
<text class="tk" x="1766.0" y="1368">30</text>
<text class="ax" x="715" y="1493" textLength="518" lengthAdjust="spacingAndGlyphs">2<tspan font-weight="normal" stroke="#000" stroke-width="1.5">θ</tspan> (degree)</text>
<text class="ax" transform="translate(116.2,1109) rotate(-90)" textLength="977" lengthAdjust="spacingAndGlyphs">Normalized intensity</text>
<text class="pl" transform="translate(310.2,329.2) rotate(-90)" textLength="130.0" lengthAdjust="spacingAndGlyphs">(020)</text>
<text class="pl" transform="translate(498.5,341.5) rotate(-90)" textLength="127.3" lengthAdjust="spacingAndGlyphs">(040)</text>
<text class="pl" transform="translate(691.9,374.1) rotate(-90)" textLength="130.0" lengthAdjust="spacingAndGlyphs">(060)</text>
<text class="pl" transform="translate(859.0,353.6) rotate(-90)" textLength="130.4" lengthAdjust="spacingAndGlyphs">(080)</text>
<text class="pl" transform="translate(906.2,199.5) rotate(-90)" textLength="132.5" lengthAdjust="spacingAndGlyphs">(111)</text>
<text class="pl" transform="translate(307.9,614.5) rotate(-90)" textLength="127.6" lengthAdjust="spacingAndGlyphs">(020)</text>
<text class="pl" transform="translate(497.2,641.9) rotate(-90)" textLength="127.5" lengthAdjust="spacingAndGlyphs">(040)</text>
<text class="pl" transform="translate(691.9,676.8) rotate(-90)" textLength="127.5" lengthAdjust="spacingAndGlyphs">(060)</text>
<text class="pl" transform="translate(859.0,676.9) rotate(-90)" textLength="129.0" lengthAdjust="spacingAndGlyphs">(080)</text>
<text class="pl" transform="translate(963.7,567.0) rotate(-90)" textLength="129.9" lengthAdjust="spacingAndGlyphs">(111)</text>
<text class="pl" transform="translate(427.6,844.7) rotate(-90)" textLength="130.0" lengthAdjust="spacingAndGlyphs">(020)</text>
<text class="pl" transform="translate(614.6,917.0) rotate(-90)" textLength="127.5" lengthAdjust="spacingAndGlyphs">(040)</text>
<text class="pl" transform="translate(868.9,919.5) rotate(-90)" textLength="127.5" lengthAdjust="spacingAndGlyphs">(060)</text>
<text class="pl" transform="translate(529.8,1089.1) rotate(-90)" textLength="130.0" lengthAdjust="spacingAndGlyphs">(002)</text>
<text class="pl" transform="translate(829.1,1156.4) rotate(-90)" textLength="130.0" lengthAdjust="spacingAndGlyphs">(004)</text>
<text class="pl" transform="translate(1187.5,1159.6) rotate(-90)" textLength="128.7" lengthAdjust="spacingAndGlyphs">(006)</text>
<circle cx="355.6" cy="275.8" r="10.8" fill="#000"/>
<circle cx="600.4" cy="329.2" r="10.8" fill="#000"/>
<circle cx="349.6" cy="635.4" r="10.8" fill="#000"/>
<circle cx="604" cy="663.3" r="10.8" fill="#000"/>
<text x="451.8" y="396" font-size="62" text-anchor="middle" stroke="#000" stroke-width="1.2">*</text>
<text x="458.3" y="691.3" font-size="62" text-anchor="middle" stroke="#000" stroke-width="1.2">*</text>
<text class="lg" x="1401.7" y="163" style="font-size:70px;stroke:#000;stroke-width:1.5px">*</text>
<text class="lg" x="1457.5" y="154.8" textLength="120" lengthAdjust="spacingAndGlyphs">n=1</text>
<circle cx="1419.2" cy="235" r="13.8" fill="#000"/>
<text class="lg" x="1455.5" y="256" textLength="121" lengthAdjust="spacingAndGlyphs">n=2</text>
<line x1="1402.0" y1="324" x2="1568.4" y2="324" stroke="#FC8082" stroke-width="13" stroke-linecap="round"/>
<text class="lg" x="1588" y="349.2" textLength="119.5" lengthAdjust="spacingAndGlyphs">n=4</text>
<line x1="1414.2" y1="596.7" x2="1579.8" y2="596.7" stroke="#FD0505" stroke-width="13" stroke-linecap="round"/>
<text class="lg" x="1599.5" y="621" textLength="119.5" lengthAdjust="spacingAndGlyphs">n=3</text>
<line x1="1417.9" y1="850.9" x2="1584.4" y2="850.9" stroke="#A50000" stroke-width="13" stroke-linecap="round"/>
<text class="lg" x="1604" y="873.8" textLength="119.5" lengthAdjust="spacingAndGlyphs">n=2</text>
<line x1="1416.5" y1="1096.2" x2="1582.1" y2="1096.2" stroke="#4E0000" stroke-width="13" stroke-linecap="round"/>
<text class="lg" x="1602.5" y="1120.5" textLength="118" lengthAdjust="spacingAndGlyphs">n=1</text>
</svg></body></html>
